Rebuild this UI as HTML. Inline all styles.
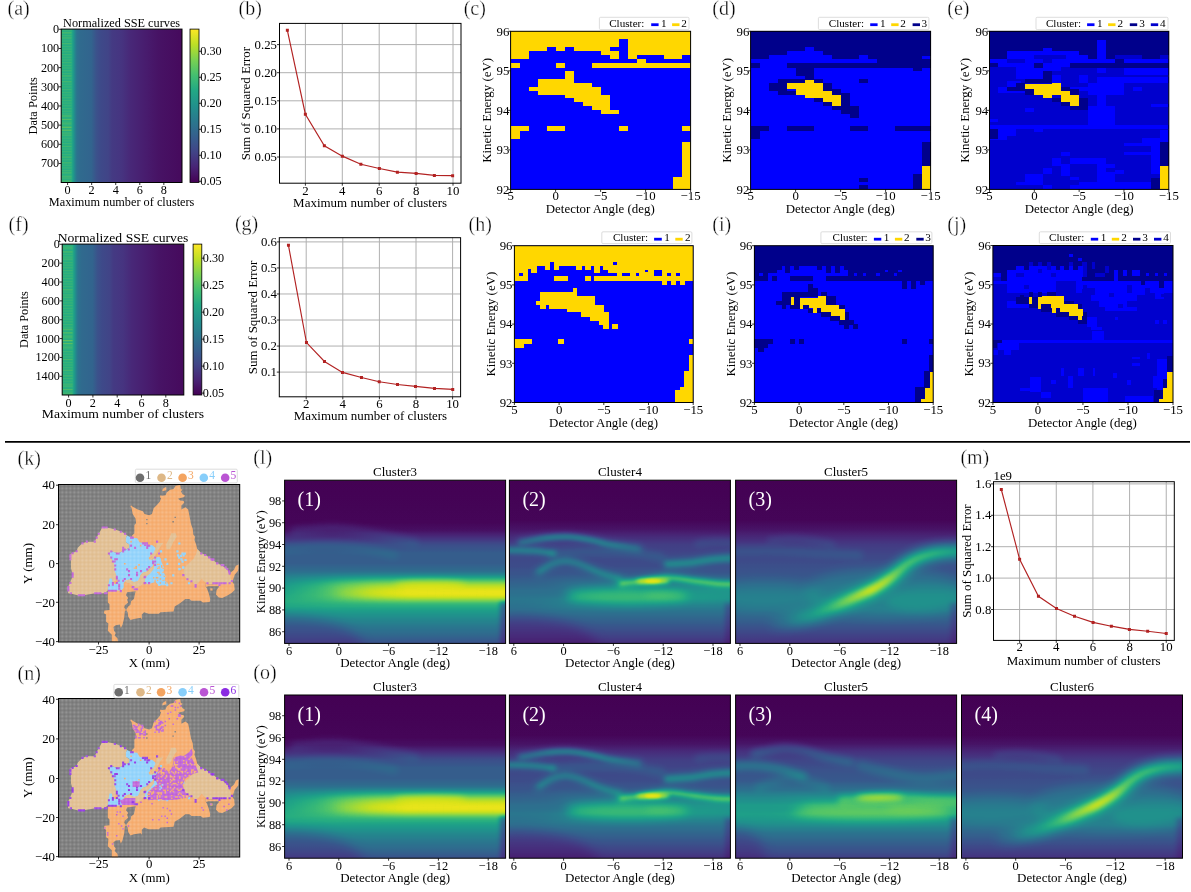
<!DOCTYPE html><html><head><meta charset="utf-8"><title>Figure</title><style>html,body{margin:0;padding:0;background:#fff}svg{display:block}</style></head><body><svg width="1191" height="892" viewBox="0 0 1191 892" font-family='"Liberation Serif", serif' shape-rendering="geometricPrecision"><defs><linearGradient id="ga" x1="0" x2="1" y1="0" y2="0"><stop offset="0.000" stop-color="#26ad81"/><stop offset="0.085" stop-color="#26ad81"/><stop offset="0.100" stop-color="#1e9c89"/><stop offset="0.115" stop-color="#25848e"/><stop offset="0.130" stop-color="#2c738e"/><stop offset="0.160" stop-color="#306a8e"/><stop offset="0.250" stop-color="#32648e"/><stop offset="0.290" stop-color="#3b528b"/><stop offset="0.330" stop-color="#3e4989"/><stop offset="0.390" stop-color="#414487"/><stop offset="0.420" stop-color="#443a83"/><stop offset="0.500" stop-color="#463480"/><stop offset="0.570" stop-color="#482878"/><stop offset="0.700" stop-color="#481c6e"/><stop offset="0.800" stop-color="#471365"/><stop offset="1.000" stop-color="#460a5d"/></linearGradient><pattern id="stk" width="8" height="2.7" patternUnits="userSpaceOnUse"><rect width="8" height="1.1" fill="#a5db36" opacity="0.16"/></pattern><linearGradient id="gac" x1="0" x2="0" y1="1" y2="0"><stop offset="0" stop-color="#440154"/><stop offset="0.1" stop-color="#482475"/><stop offset="0.2" stop-color="#414487"/><stop offset="0.3" stop-color="#355f8d"/><stop offset="0.4" stop-color="#2a788e"/><stop offset="0.5" stop-color="#21918c"/><stop offset="0.6" stop-color="#22a884"/><stop offset="0.7" stop-color="#44bf70"/><stop offset="0.8" stop-color="#7ad151"/><stop offset="0.9" stop-color="#bddf26"/><stop offset="1" stop-color="#fde725"/></linearGradient><linearGradient id="gf" x1="0" x2="1" y1="0" y2="0"><stop offset="0.000" stop-color="#26ad81"/><stop offset="0.085" stop-color="#26ad81"/><stop offset="0.100" stop-color="#1e9c89"/><stop offset="0.115" stop-color="#25848e"/><stop offset="0.130" stop-color="#2c738e"/><stop offset="0.160" stop-color="#306a8e"/><stop offset="0.250" stop-color="#32648e"/><stop offset="0.290" stop-color="#3b528b"/><stop offset="0.330" stop-color="#3e4989"/><stop offset="0.390" stop-color="#414487"/><stop offset="0.420" stop-color="#443a83"/><stop offset="0.500" stop-color="#463480"/><stop offset="0.570" stop-color="#482878"/><stop offset="0.700" stop-color="#481c6e"/><stop offset="0.800" stop-color="#471365"/><stop offset="1.000" stop-color="#460a5d"/></linearGradient><linearGradient id="gfc" x1="0" x2="0" y1="1" y2="0"><stop offset="0" stop-color="#440154"/><stop offset="0.1" stop-color="#482475"/><stop offset="0.2" stop-color="#414487"/><stop offset="0.3" stop-color="#355f8d"/><stop offset="0.4" stop-color="#2a788e"/><stop offset="0.5" stop-color="#21918c"/><stop offset="0.6" stop-color="#22a884"/><stop offset="0.7" stop-color="#44bf70"/><stop offset="0.8" stop-color="#7ad151"/><stop offset="0.9" stop-color="#bddf26"/><stop offset="1" stop-color="#fde725"/></linearGradient><pattern id="dotp" width="4" height="4" patternUnits="userSpaceOnUse" x="58.5" y="484.5"><g fill="#fff" opacity="0.7"><rect x="0.42" y="0.42" width="0.6" height="0.6"/><rect x="0.42" y="1.75" width="0.6" height="0.6"/><rect x="0.42" y="3.09" width="0.6" height="0.6"/><rect x="1.75" y="0.42" width="0.6" height="0.6"/><rect x="1.75" y="1.75" width="0.6" height="0.6"/><rect x="1.75" y="3.09" width="0.6" height="0.6"/><rect x="3.09" y="0.42" width="0.6" height="0.6"/><rect x="3.09" y="1.75" width="0.6" height="0.6"/><rect x="3.09" y="3.09" width="0.6" height="0.6"/></g></pattern><filter id="vir" filterUnits="userSpaceOnUse" x="-30" y="-30" width="290" height="230" color-interpolation-filters="sRGB"><feComponentTransfer><feFuncR type="table" tableValues="0.267 0.277 0.282 0.283 0.279 0.271 0.259 0.245 0.230 0.214 0.199 0.186 0.173 0.161 0.149 0.138 0.128 0.121 0.121 0.132 0.158 0.197 0.246 0.304 0.369 0.440 0.516 0.596 0.678 0.762 0.846 0.926 0.993"/><feFuncG type="table" tableValues="0.005 0.050 0.095 0.136 0.175 0.214 0.252 0.288 0.322 0.356 0.388 0.419 0.449 0.479 0.508 0.537 0.567 0.596 0.626 0.655 0.684 0.712 0.739 0.765 0.789 0.811 0.831 0.849 0.864 0.876 0.887 0.897 0.906"/><feFuncB type="table" tableValues="0.329 0.376 0.417 0.453 0.483 0.507 0.525 0.537 0.546 0.551 0.555 0.557 0.558 0.558 0.557 0.555 0.551 0.544 0.533 0.520 0.502 0.479 0.452 0.420 0.383 0.341 0.294 0.243 0.190 0.137 0.100 0.104 0.144"/></feComponentTransfer></filter><filter id="b1" filterUnits="userSpaceOnUse" x="-60" y="-60" width="350" height="290" color-interpolation-filters="sRGB"><feGaussianBlur stdDeviation="1"/></filter><filter id="b2" filterUnits="userSpaceOnUse" x="-60" y="-60" width="350" height="290" color-interpolation-filters="sRGB"><feGaussianBlur stdDeviation="2"/></filter><filter id="b3" filterUnits="userSpaceOnUse" x="-60" y="-60" width="350" height="290" color-interpolation-filters="sRGB"><feGaussianBlur stdDeviation="3"/></filter><filter id="b4" filterUnits="userSpaceOnUse" x="-60" y="-60" width="350" height="290" color-interpolation-filters="sRGB"><feGaussianBlur stdDeviation="4"/></filter><filter id="b5" filterUnits="userSpaceOnUse" x="-60" y="-60" width="350" height="290" color-interpolation-filters="sRGB"><feGaussianBlur stdDeviation="5"/></filter><filter id="b6" filterUnits="userSpaceOnUse" x="-60" y="-60" width="350" height="290" color-interpolation-filters="sRGB"><feGaussianBlur stdDeviation="6"/></filter><linearGradient id="q1" gradientUnits="userSpaceOnUse" x1="0" x2="0" y1="0" y2="163.2"><stop offset="0.000" stop-color="#000000"/><stop offset="0.260" stop-color="#030303"/><stop offset="0.307" stop-color="#0a0a0a"/><stop offset="0.347" stop-color="#1f1f1f"/><stop offset="0.394" stop-color="#3b3b3b"/><stop offset="0.447" stop-color="#4a4a4a"/><stop offset="0.508" stop-color="#4a4a4a"/><stop offset="0.554" stop-color="#595959"/><stop offset="0.594" stop-color="#6e6e6e"/><stop offset="0.648" stop-color="#808080"/><stop offset="0.695" stop-color="#8c8c8c"/><stop offset="0.741" stop-color="#999999"/><stop offset="0.775" stop-color="#999999"/><stop offset="0.808" stop-color="#8a8a8a"/><stop offset="0.848" stop-color="#787878"/><stop offset="0.895" stop-color="#666666"/><stop offset="0.942" stop-color="#575757"/><stop offset="0.995" stop-color="#424242"/></linearGradient><clipPath id="q2"><rect x="0" y="0" width="221" height="163.2"/></clipPath><linearGradient id="q3" x1="0" x2="1" y1="0" y2="0"><stop offset="0" stop-color="#fff" stop-opacity="0"/><stop offset="0.08" stop-color="#fff" stop-opacity="0.1"/><stop offset="0.2" stop-color="#fff" stop-opacity="0.3"/><stop offset="0.3" stop-color="#fff" stop-opacity="0.55"/><stop offset="0.42" stop-color="#fff" stop-opacity="0.72"/><stop offset="0.55" stop-color="#fff" stop-opacity="0.8"/><stop offset="0.97" stop-color="#fff" stop-opacity="0.8"/><stop offset="1" stop-color="#fff" stop-opacity="0.65"/></linearGradient><linearGradient id="q4" x1="0" x2="1" y1="0" y2="0"><stop offset="0" stop-color="#fff" stop-opacity="0"/><stop offset="0.25" stop-color="#fff" stop-opacity="0"/><stop offset="0.4" stop-color="#fff" stop-opacity="0.45"/><stop offset="0.55" stop-color="#fff" stop-opacity="0.75"/><stop offset="0.95" stop-color="#fff" stop-opacity="0.8"/><stop offset="1" stop-color="#fff" stop-opacity="0.4"/></linearGradient><linearGradient id="q5" gradientUnits="userSpaceOnUse" x1="0" x2="0" y1="0" y2="163.2"><stop offset="0.000" stop-color="#000000"/><stop offset="0.247" stop-color="#030303"/><stop offset="0.301" stop-color="#0d0d0d"/><stop offset="0.347" stop-color="#1f1f1f"/><stop offset="0.394" stop-color="#2e2e2e"/><stop offset="0.461" stop-color="#363636"/><stop offset="0.528" stop-color="#3b3b3b"/><stop offset="0.581" stop-color="#474747"/><stop offset="0.628" stop-color="#5c5c5c"/><stop offset="0.675" stop-color="#707070"/><stop offset="0.728" stop-color="#787878"/><stop offset="0.781" stop-color="#696969"/><stop offset="0.842" stop-color="#545454"/><stop offset="0.908" stop-color="#404040"/><stop offset="0.968" stop-color="#2e2e2e"/><stop offset="0.995" stop-color="#242424"/></linearGradient><clipPath id="q6"><rect x="0" y="0" width="221" height="163.2"/></clipPath><linearGradient id="q7" gradientUnits="userSpaceOnUse" x1="0" x2="221" y1="0" y2="0"><stop offset="0.000" stop-color="#fff" stop-opacity="0.3"/><stop offset="0.181" stop-color="#fff" stop-opacity="1"/><stop offset="0.407" stop-color="#fff" stop-opacity="1"/><stop offset="0.588" stop-color="#fff" stop-opacity="0.3"/></linearGradient><linearGradient id="q8" gradientUnits="userSpaceOnUse" x1="0" x2="0" y1="0" y2="163.2"><stop offset="0.000" stop-color="#000000"/><stop offset="0.247" stop-color="#030303"/><stop offset="0.301" stop-color="#0d0d0d"/><stop offset="0.347" stop-color="#1c1c1c"/><stop offset="0.394" stop-color="#2b2b2b"/><stop offset="0.461" stop-color="#363636"/><stop offset="0.528" stop-color="#3d3d3d"/><stop offset="0.594" stop-color="#454545"/><stop offset="0.661" stop-color="#4f4f4f"/><stop offset="0.728" stop-color="#595959"/><stop offset="0.795" stop-color="#595959"/><stop offset="0.862" stop-color="#4c4c4c"/><stop offset="0.928" stop-color="#383838"/><stop offset="0.995" stop-color="#262626"/></linearGradient><clipPath id="q9"><rect x="0" y="0" width="221" height="163.2"/></clipPath><linearGradient id="q10" gradientUnits="userSpaceOnUse" x1="0" x2="221" y1="0" y2="0"><stop offset="0.136" stop-color="#fff" stop-opacity="0"/><stop offset="0.271" stop-color="#fff" stop-opacity="0.2"/><stop offset="0.498" stop-color="#fff" stop-opacity="0.36"/><stop offset="0.633" stop-color="#fff" stop-opacity="0.42"/><stop offset="0.769" stop-color="#fff" stop-opacity="0.36"/><stop offset="1.000" stop-color="#fff" stop-opacity="0.3"/></linearGradient><linearGradient id="q11" gradientUnits="userSpaceOnUse" x1="0" x2="221" y1="0" y2="0"><stop offset="0.226" stop-color="#fff" stop-opacity="0"/><stop offset="0.430" stop-color="#fff" stop-opacity="0.25"/><stop offset="0.543" stop-color="#fff" stop-opacity="0.7"/><stop offset="0.611" stop-color="#fff" stop-opacity="0.95"/><stop offset="0.679" stop-color="#fff" stop-opacity="0.8"/><stop offset="0.738" stop-color="#fff" stop-opacity="0.5"/><stop offset="0.860" stop-color="#fff" stop-opacity="0.45"/><stop offset="1.000" stop-color="#fff" stop-opacity="0.3"/></linearGradient><linearGradient id="q12" gradientUnits="userSpaceOnUse" x1="0" x2="0" y1="0" y2="163.2"><stop offset="0.000" stop-color="#000000"/><stop offset="0.260" stop-color="#030303"/><stop offset="0.307" stop-color="#0a0a0a"/><stop offset="0.347" stop-color="#1f1f1f"/><stop offset="0.394" stop-color="#3b3b3b"/><stop offset="0.447" stop-color="#4a4a4a"/><stop offset="0.508" stop-color="#4a4a4a"/><stop offset="0.554" stop-color="#595959"/><stop offset="0.594" stop-color="#6e6e6e"/><stop offset="0.648" stop-color="#808080"/><stop offset="0.695" stop-color="#8c8c8c"/><stop offset="0.741" stop-color="#999999"/><stop offset="0.775" stop-color="#999999"/><stop offset="0.808" stop-color="#8a8a8a"/><stop offset="0.848" stop-color="#787878"/><stop offset="0.895" stop-color="#666666"/><stop offset="0.942" stop-color="#575757"/><stop offset="0.995" stop-color="#424242"/></linearGradient><clipPath id="q13"><rect x="0" y="0" width="221" height="163.2"/></clipPath><linearGradient id="q14" x1="0" x2="1" y1="0" y2="0"><stop offset="0" stop-color="#fff" stop-opacity="0"/><stop offset="0.08" stop-color="#fff" stop-opacity="0.1"/><stop offset="0.2" stop-color="#fff" stop-opacity="0.3"/><stop offset="0.3" stop-color="#fff" stop-opacity="0.55"/><stop offset="0.42" stop-color="#fff" stop-opacity="0.72"/><stop offset="0.55" stop-color="#fff" stop-opacity="0.8"/><stop offset="0.97" stop-color="#fff" stop-opacity="0.8"/><stop offset="1" stop-color="#fff" stop-opacity="0.65"/></linearGradient><linearGradient id="q15" x1="0" x2="1" y1="0" y2="0"><stop offset="0" stop-color="#fff" stop-opacity="0"/><stop offset="0.25" stop-color="#fff" stop-opacity="0"/><stop offset="0.4" stop-color="#fff" stop-opacity="0.45"/><stop offset="0.55" stop-color="#fff" stop-opacity="0.75"/><stop offset="0.95" stop-color="#fff" stop-opacity="0.8"/><stop offset="1" stop-color="#fff" stop-opacity="0.4"/></linearGradient><linearGradient id="q16" gradientUnits="userSpaceOnUse" x1="0" x2="0" y1="0" y2="163.2"><stop offset="0.000" stop-color="#000000"/><stop offset="0.247" stop-color="#030303"/><stop offset="0.301" stop-color="#0d0d0d"/><stop offset="0.347" stop-color="#1f1f1f"/><stop offset="0.394" stop-color="#2e2e2e"/><stop offset="0.461" stop-color="#363636"/><stop offset="0.528" stop-color="#3b3b3b"/><stop offset="0.581" stop-color="#474747"/><stop offset="0.628" stop-color="#5c5c5c"/><stop offset="0.675" stop-color="#707070"/><stop offset="0.728" stop-color="#787878"/><stop offset="0.781" stop-color="#696969"/><stop offset="0.842" stop-color="#545454"/><stop offset="0.908" stop-color="#404040"/><stop offset="0.968" stop-color="#2e2e2e"/><stop offset="0.995" stop-color="#242424"/></linearGradient><clipPath id="q17"><rect x="0" y="0" width="221" height="163.2"/></clipPath><linearGradient id="q18" gradientUnits="userSpaceOnUse" x1="0" x2="221" y1="0" y2="0"><stop offset="0.000" stop-color="#fff" stop-opacity="0.3"/><stop offset="0.181" stop-color="#fff" stop-opacity="1"/><stop offset="0.407" stop-color="#fff" stop-opacity="1"/><stop offset="0.588" stop-color="#fff" stop-opacity="0.3"/></linearGradient><linearGradient id="q19" gradientUnits="userSpaceOnUse" x1="0" x2="0" y1="0" y2="163.2"><stop offset="0.000" stop-color="#000000"/><stop offset="0.247" stop-color="#030303"/><stop offset="0.301" stop-color="#0f0f0f"/><stop offset="0.347" stop-color="#242424"/><stop offset="0.394" stop-color="#333333"/><stop offset="0.461" stop-color="#404040"/><stop offset="0.528" stop-color="#474747"/><stop offset="0.581" stop-color="#5e5e5e"/><stop offset="0.628" stop-color="#808080"/><stop offset="0.675" stop-color="#9e9e9e"/><stop offset="0.728" stop-color="#9e9e9e"/><stop offset="0.781" stop-color="#858585"/><stop offset="0.842" stop-color="#636363"/><stop offset="0.908" stop-color="#4c4c4c"/><stop offset="0.968" stop-color="#3b3b3b"/><stop offset="0.995" stop-color="#303030"/></linearGradient><clipPath id="q20"><rect x="0" y="0" width="221" height="163.2"/></clipPath><linearGradient id="q21" gradientUnits="userSpaceOnUse" x1="0" x2="0" y1="0" y2="163.2"><stop offset="0.000" stop-color="#000000"/><stop offset="0.247" stop-color="#030303"/><stop offset="0.301" stop-color="#0d0d0d"/><stop offset="0.347" stop-color="#1c1c1c"/><stop offset="0.394" stop-color="#2b2b2b"/><stop offset="0.461" stop-color="#363636"/><stop offset="0.528" stop-color="#3d3d3d"/><stop offset="0.594" stop-color="#454545"/><stop offset="0.661" stop-color="#4f4f4f"/><stop offset="0.728" stop-color="#595959"/><stop offset="0.795" stop-color="#595959"/><stop offset="0.862" stop-color="#4c4c4c"/><stop offset="0.928" stop-color="#383838"/><stop offset="0.995" stop-color="#262626"/></linearGradient><clipPath id="q22"><rect x="0" y="0" width="221" height="163.2"/></clipPath><linearGradient id="q23" gradientUnits="userSpaceOnUse" x1="0" x2="221" y1="0" y2="0"><stop offset="0.136" stop-color="#fff" stop-opacity="0"/><stop offset="0.271" stop-color="#fff" stop-opacity="0.2"/><stop offset="0.498" stop-color="#fff" stop-opacity="0.36"/><stop offset="0.633" stop-color="#fff" stop-opacity="0.42"/><stop offset="0.769" stop-color="#fff" stop-opacity="0.36"/><stop offset="1.000" stop-color="#fff" stop-opacity="0.3"/></linearGradient><linearGradient id="q24" gradientUnits="userSpaceOnUse" x1="0" x2="221" y1="0" y2="0"><stop offset="0.226" stop-color="#fff" stop-opacity="0"/><stop offset="0.430" stop-color="#fff" stop-opacity="0.25"/><stop offset="0.543" stop-color="#fff" stop-opacity="0.7"/><stop offset="0.611" stop-color="#fff" stop-opacity="0.95"/><stop offset="0.679" stop-color="#fff" stop-opacity="0.8"/><stop offset="0.738" stop-color="#fff" stop-opacity="0.5"/><stop offset="0.860" stop-color="#fff" stop-opacity="0.45"/><stop offset="1.000" stop-color="#fff" stop-opacity="0.3"/></linearGradient></defs><rect width="1191" height="892" fill="#fff"/><rect x="61.2" y="29.1" width="120.8" height="153.4" fill="url(#ga)"/>
<rect x="61.2" y="29.1" width="10.27" height="153.4" fill="url(#stk)"/>
<rect x="61.2" y="32.17" width="10.27" height="1.3" fill="#b5de2b" opacity="0.15"/>
<rect x="61.2" y="36.77" width="10.27" height="1.3" fill="#b5de2b" opacity="0.12"/>
<rect x="61.2" y="42.91" width="10.27" height="1.3" fill="#b5de2b" opacity="0.09"/>
<rect x="61.2" y="75.12" width="10.27" height="1.3" fill="#b5de2b" opacity="0.12"/>
<rect x="61.2" y="81.26" width="10.27" height="1.3" fill="#b5de2b" opacity="0.09"/>
<rect x="61.2" y="115" width="10.27" height="1.3" fill="#b5de2b" opacity="0.18"/>
<rect x="61.2" y="118.84" width="10.27" height="1.3" fill="#b5de2b" opacity="0.21"/>
<rect x="61.2" y="122.67" width="10.27" height="1.3" fill="#b5de2b" opacity="0.18"/>
<rect x="61.2" y="126.51" width="10.27" height="1.3" fill="#b5de2b" opacity="0.33"/>
<rect x="61.2" y="129.58" width="10.27" height="1.3" fill="#b5de2b" opacity="0.27"/>
<rect x="61.2" y="133.41" width="10.27" height="1.3" fill="#b5de2b" opacity="0.15"/>
<rect x="61.2" y="145.68" width="10.27" height="1.3" fill="#b5de2b" opacity="0.09"/>
<rect x="61.2" y="156.42" width="10.27" height="1.3" fill="#b5de2b" opacity="0.12"/>
<rect x="61.2" y="162.56" width="10.27" height="1.3" fill="#b5de2b" opacity="0.09"/>
<rect x="61.2" y="171.76" width="10.27" height="1.3" fill="#b5de2b" opacity="0.15"/>
<rect x="61.2" y="176.36" width="10.27" height="1.3" fill="#b5de2b" opacity="0.18"/>
<rect x="61.2" y="180.2" width="10.27" height="1.3" fill="#b5de2b" opacity="0.18"/>
<rect x="61.2" y="29.1" width="120.8" height="153.4" fill="none" stroke="#000" stroke-width="1"/>
<rect x="190" y="29.1" width="9" height="153.4" fill="url(#gac)"/>
<rect x="190" y="29.1" width="9" height="153.4" fill="none" stroke="#000" stroke-width="0.8"/>
<text x="121.6" y="26.6" font-size="12.2" text-anchor="middle" textLength="117" lengthAdjust="spacingAndGlyphs">Normalized SSE curves</text>
<path d="M61.2 29.3h-2.5M61.2 48.47h-2.5M61.2 67.64h-2.5M61.2 86.81h-2.5M61.2 105.98h-2.5M61.2 125.15h-2.5M61.2 144.32h-2.5M61.2 163.49h-2.5" stroke="#000" stroke-width="0.8"/>
<text x="59.2" y="33.3" font-size="12.2" text-anchor="end">0</text>
<text x="59.2" y="52.47" font-size="12.2" text-anchor="end">100</text>
<text x="59.2" y="71.64" font-size="12.2" text-anchor="end">200</text>
<text x="59.2" y="90.81" font-size="12.2" text-anchor="end">300</text>
<text x="59.2" y="109.98" font-size="12.2" text-anchor="end">400</text>
<text x="59.2" y="129.15" font-size="12.2" text-anchor="end">500</text>
<text x="59.2" y="148.32" font-size="12.2" text-anchor="end">600</text>
<text x="59.2" y="167.49" font-size="12.2" text-anchor="end">700</text>
<path d="M67.6 182.5v2.5M91.66 182.5v2.5M115.72 182.5v2.5M139.78 182.5v2.5M163.84 182.5v2.5" stroke="#000" stroke-width="0.8"/>
<text x="67.6" y="193.6" font-size="12.2" text-anchor="middle">0</text>
<text x="91.66" y="193.6" font-size="12.2" text-anchor="middle">2</text>
<text x="115.72" y="193.6" font-size="12.2" text-anchor="middle">4</text>
<text x="139.78" y="193.6" font-size="12.2" text-anchor="middle">6</text>
<text x="163.84" y="193.6" font-size="12.2" text-anchor="middle">8</text>
<text x="121.6" y="206" font-size="12.2" text-anchor="middle" textLength="145.6" lengthAdjust="spacingAndGlyphs">Maximum number of clusters</text>
<text x="37.1" y="105.8" font-size="12.2" text-anchor="middle" transform="rotate(-90 37.1 105.8)" textLength="57.4" lengthAdjust="spacingAndGlyphs">Data Points</text>
<path d="M199 51.3h2.5M199 77.3h2.5M199 103.3h2.5M199 129.3h2.5M199 155.3h2.5M199 181.3h2.5" stroke="#000" stroke-width="0.8"/>
<text x="200.3" y="55.3" font-size="12.2">0.30</text>
<text x="200.3" y="81.3" font-size="12.2">0.25</text>
<text x="200.3" y="107.3" font-size="12.2">0.20</text>
<text x="200.3" y="133.3" font-size="12.2">0.15</text>
<text x="200.3" y="159.3" font-size="12.2">0.10</text>
<text x="200.3" y="185.3" font-size="12.2">0.05</text>
<rect x="62.2" y="244.1" width="121.6" height="150.9" fill="url(#gf)"/>
<rect x="62.2" y="244.1" width="10.34" height="150.9" fill="url(#stk)"/>
<rect x="62.2" y="247.12" width="10.34" height="1.3" fill="#b5de2b" opacity="0.15"/>
<rect x="62.2" y="251.64" width="10.34" height="1.3" fill="#b5de2b" opacity="0.12"/>
<rect x="62.2" y="257.68" width="10.34" height="1.3" fill="#b5de2b" opacity="0.09"/>
<rect x="62.2" y="289.37" width="10.34" height="1.3" fill="#b5de2b" opacity="0.12"/>
<rect x="62.2" y="295.41" width="10.34" height="1.3" fill="#b5de2b" opacity="0.09"/>
<rect x="62.2" y="328.6" width="10.34" height="1.3" fill="#b5de2b" opacity="0.18"/>
<rect x="62.2" y="332.38" width="10.34" height="1.3" fill="#b5de2b" opacity="0.21"/>
<rect x="62.2" y="336.15" width="10.34" height="1.3" fill="#b5de2b" opacity="0.18"/>
<rect x="62.2" y="339.92" width="10.34" height="1.3" fill="#b5de2b" opacity="0.33"/>
<rect x="62.2" y="342.94" width="10.34" height="1.3" fill="#b5de2b" opacity="0.27"/>
<rect x="62.2" y="346.71" width="10.34" height="1.3" fill="#b5de2b" opacity="0.15"/>
<rect x="62.2" y="358.78" width="10.34" height="1.3" fill="#b5de2b" opacity="0.09"/>
<rect x="62.2" y="369.35" width="10.34" height="1.3" fill="#b5de2b" opacity="0.12"/>
<rect x="62.2" y="375.38" width="10.34" height="1.3" fill="#b5de2b" opacity="0.09"/>
<rect x="62.2" y="384.44" width="10.34" height="1.3" fill="#b5de2b" opacity="0.15"/>
<rect x="62.2" y="388.96" width="10.34" height="1.3" fill="#b5de2b" opacity="0.18"/>
<rect x="62.2" y="392.74" width="10.34" height="1.3" fill="#b5de2b" opacity="0.18"/>
<rect x="62.2" y="244.1" width="121.6" height="150.9" fill="none" stroke="#000" stroke-width="1"/>
<rect x="193.1" y="244.1" width="8.7" height="150.9" fill="url(#gfc)"/>
<rect x="193.1" y="244.1" width="8.7" height="150.9" fill="none" stroke="#000" stroke-width="0.8"/>
<text x="123" y="241.6" font-size="12.2" text-anchor="middle" textLength="130.7" lengthAdjust="spacingAndGlyphs">Normalized SSE curves</text>
<path d="M62.2 244.3h-2.5M62.2 263.16h-2.5M62.2 282.02h-2.5M62.2 300.88h-2.5M62.2 319.74h-2.5M62.2 338.6h-2.5M62.2 357.46h-2.5M62.2 376.32h-2.5" stroke="#000" stroke-width="0.8"/>
<text x="59.9" y="248.3" font-size="12.2" text-anchor="end">0</text>
<text x="59.9" y="267.16" font-size="12.2" text-anchor="end">200</text>
<text x="59.9" y="286.02" font-size="12.2" text-anchor="end">400</text>
<text x="59.9" y="304.88" font-size="12.2" text-anchor="end">600</text>
<text x="59.9" y="323.74" font-size="12.2" text-anchor="end">800</text>
<text x="59.9" y="342.6" font-size="12.2" text-anchor="end">1000</text>
<text x="59.9" y="361.46" font-size="12.2" text-anchor="end">1200</text>
<text x="59.9" y="380.32" font-size="12.2" text-anchor="end">1400</text>
<path d="M68.6 395v2.5M92.9 395v2.5M117.2 395v2.5M141.5 395v2.5M165.8 395v2.5" stroke="#000" stroke-width="0.8"/>
<text x="68.6" y="406.9" font-size="12.2" text-anchor="middle">0</text>
<text x="92.9" y="406.9" font-size="12.2" text-anchor="middle">2</text>
<text x="117.2" y="406.9" font-size="12.2" text-anchor="middle">4</text>
<text x="141.5" y="406.9" font-size="12.2" text-anchor="middle">6</text>
<text x="165.8" y="406.9" font-size="12.2" text-anchor="middle">8</text>
<text x="123" y="417.8" font-size="12.2" text-anchor="middle" textLength="162.3" lengthAdjust="spacingAndGlyphs">Maximum number of clusters</text>
<text x="27.7" y="319.55" font-size="12.2" text-anchor="middle" transform="rotate(-90 27.7 319.55)" textLength="56.7" lengthAdjust="spacingAndGlyphs">Data Points</text>
<path d="M201.8 258.2h2.5M201.8 285.18h2.5M201.8 312.16h2.5M201.8 339.14h2.5M201.8 366.12h2.5M201.8 393.1h2.5" stroke="#000" stroke-width="0.8"/>
<text x="202.8" y="262.2" font-size="12.2">0.30</text>
<text x="202.8" y="289.18" font-size="12.2">0.25</text>
<text x="202.8" y="316.16" font-size="12.2">0.20</text>
<text x="202.8" y="343.14" font-size="12.2">0.15</text>
<text x="202.8" y="370.12" font-size="12.2">0.10</text>
<text x="202.8" y="397.1" font-size="12.2">0.05</text>
<rect x="279.5" y="23.4" width="181.5" height="159.8" fill="#fff"/>
<path d="M305.4 23.4V183.2M342.3 23.4V183.2M379.2 23.4V183.2M416.1 23.4V183.2M453 23.4V183.2M279.5 44.6H461M279.5 72.7H461M279.5 100.8H461M279.5 128.9H461M279.5 157H461" stroke="#b0b0b0" stroke-width="1" fill="none"/>
<polyline points="287.36,30.34 305.37,114.21 324.36,145.78 342.37,156.14 360.87,164.28 379.37,168.48 397.38,172.18 416.12,173.41 434.38,175.38 452.63,175.63" fill="none" stroke="#b22222" stroke-width="1.15"/>
<path d="M285.86 28.84h3v3h-3zM303.87 112.71h3v3h-3zM322.86 144.28h3v3h-3zM340.87 154.64h3v3h-3zM359.37 162.78h3v3h-3zM377.87 166.98h3v3h-3zM395.88 170.68h3v3h-3zM414.62 171.91h3v3h-3zM432.88 173.88h3v3h-3zM451.13 174.13h3v3h-3z" fill="#b22222"/>
<rect x="279.5" y="23.4" width="181.5" height="159.8" fill="none" stroke="#000" stroke-width="1"/>
<path d="M305.4 183.2v2.5M342.3 183.2v2.5M379.2 183.2v2.5M416.1 183.2v2.5M453 183.2v2.5" stroke="#000" stroke-width="0.8"/>
<path d="M279.5 44.6h-2.5M279.5 72.7h-2.5M279.5 100.8h-2.5M279.5 128.9h-2.5M279.5 157h-2.5" stroke="#000" stroke-width="0.8"/>
<text x="305.4" y="194.9" font-size="12.8" text-anchor="middle">2</text>
<text x="342.3" y="194.9" font-size="12.8" text-anchor="middle">4</text>
<text x="379.2" y="194.9" font-size="12.8" text-anchor="middle">6</text>
<text x="416.1" y="194.9" font-size="12.8" text-anchor="middle">8</text>
<text x="453" y="194.9" font-size="12.8" text-anchor="middle">10</text>
<text x="277" y="48.6" font-size="12.8" text-anchor="end">0.25</text>
<text x="277" y="76.7" font-size="12.8" text-anchor="end">0.20</text>
<text x="277" y="104.8" font-size="12.8" text-anchor="end">0.15</text>
<text x="277" y="132.9" font-size="12.8" text-anchor="end">0.10</text>
<text x="277" y="161" font-size="12.8" text-anchor="end">0.05</text>
<text x="370.1" y="207.2" font-size="12.8" text-anchor="middle" textLength="154" lengthAdjust="spacingAndGlyphs">Maximum number of clusters</text>
<text x="250.2" y="103.6" font-size="12.8" text-anchor="middle" transform="rotate(-90 250.2 103.6)" textLength="113.4" lengthAdjust="spacingAndGlyphs">Sum of Squared Error</text>
<rect x="279.3" y="237.7" width="181.3" height="159.1" fill="#fff"/>
<path d="M306.2 237.7V396.8M342.8 237.7V396.8M379.4 237.7V396.8M416 237.7V396.8M452.6 237.7V396.8M279.3 241.9H460.6M279.3 267.94H460.6M279.3 293.98H460.6M279.3 320.02H460.6M279.3 346.06H460.6M279.3 372.1H460.6" stroke="#b0b0b0" stroke-width="1" fill="none"/>
<polyline points="288.46,245.34 306.47,342.53 324.47,361.52 342.48,372.38 361.48,377.56 379.24,381.75 397.49,384.46 415.5,386.44 434.49,388.41 452.74,389.4" fill="none" stroke="#b22222" stroke-width="1.15"/>
<path d="M286.96 243.84h3v3h-3zM304.97 341.03h3v3h-3zM322.97 360.02h3v3h-3zM340.98 370.88h3v3h-3zM359.98 376.06h3v3h-3zM377.74 380.25h3v3h-3zM395.99 382.96h3v3h-3zM414 384.94h3v3h-3zM432.99 386.91h3v3h-3zM451.24 387.9h3v3h-3z" fill="#b22222"/>
<rect x="279.3" y="237.7" width="181.3" height="159.1" fill="none" stroke="#000" stroke-width="1"/>
<path d="M306.2 396.8v2.5M342.8 396.8v2.5M379.4 396.8v2.5M416 396.8v2.5M452.6 396.8v2.5" stroke="#000" stroke-width="0.8"/>
<path d="M279.3 241.9h-2.5M279.3 267.94h-2.5M279.3 293.98h-2.5M279.3 320.02h-2.5M279.3 346.06h-2.5M279.3 372.1h-2.5" stroke="#000" stroke-width="0.8"/>
<text x="306.2" y="407.9" font-size="12.8" text-anchor="middle">2</text>
<text x="342.8" y="407.9" font-size="12.8" text-anchor="middle">4</text>
<text x="379.4" y="407.9" font-size="12.8" text-anchor="middle">6</text>
<text x="416" y="407.9" font-size="12.8" text-anchor="middle">8</text>
<text x="452.6" y="407.9" font-size="12.8" text-anchor="middle">10</text>
<text x="276.9" y="245.9" font-size="12.8" text-anchor="end">0.6</text>
<text x="276.9" y="271.94" font-size="12.8" text-anchor="end">0.5</text>
<text x="276.9" y="297.98" font-size="12.8" text-anchor="end">0.4</text>
<text x="276.9" y="324.02" font-size="12.8" text-anchor="end">0.3</text>
<text x="276.9" y="350.06" font-size="12.8" text-anchor="end">0.2</text>
<text x="276.9" y="376.1" font-size="12.8" text-anchor="end">0.1</text>
<text x="370.4" y="420.2" font-size="12.8" text-anchor="middle" textLength="153.5" lengthAdjust="spacingAndGlyphs">Maximum number of clusters</text>
<text x="257.4" y="317.4" font-size="12.8" text-anchor="middle" transform="rotate(-90 257.4 317.4)" textLength="113.5" lengthAdjust="spacingAndGlyphs">Sum of Squared Error</text>
<rect x="993.5" y="481.7" width="180.8" height="158.7" fill="#fff"/>
<path d="M1019.6 481.7V640.4M1056.26 481.7V640.4M1092.92 481.7V640.4M1129.58 481.7V640.4M1166.24 481.7V640.4M993.5 483.9H1174.3M993.5 515.3H1174.3M993.5 546.7H1174.3M993.5 578.1H1174.3M993.5 609.5H1174.3" stroke="#b0b0b0" stroke-width="1" fill="none"/>
<polyline points="1001.31,489.51 1019.61,559.19 1038.44,596.32 1056.47,608.43 1074.5,616.23 1093.06,622.42 1111.36,626.19 1129.38,629.42 1147.68,631.3 1166.24,633.45" fill="none" stroke="#b22222" stroke-width="1.15"/>
<path d="M999.81 488.01h3v3h-3zM1018.11 557.69h3v3h-3zM1036.94 594.82h3v3h-3zM1054.97 606.93h3v3h-3zM1073 614.73h3v3h-3zM1091.56 620.92h3v3h-3zM1109.86 624.69h3v3h-3zM1127.88 627.92h3v3h-3zM1146.18 629.8h3v3h-3zM1164.74 631.95h3v3h-3z" fill="#b22222"/>
<rect x="993.5" y="481.7" width="180.8" height="158.7" fill="none" stroke="#000" stroke-width="1"/>
<path d="M1019.6 640.4v2.5M1056.26 640.4v2.5M1092.92 640.4v2.5M1129.58 640.4v2.5M1166.24 640.4v2.5" stroke="#000" stroke-width="0.8"/>
<path d="M993.5 483.9h-2.5M993.5 515.3h-2.5M993.5 546.7h-2.5M993.5 578.1h-2.5M993.5 609.5h-2.5" stroke="#000" stroke-width="0.8"/>
<text x="1019.6" y="651.21" font-size="12.8" text-anchor="middle">2</text>
<text x="1056.26" y="651.21" font-size="12.8" text-anchor="middle">4</text>
<text x="1092.92" y="651.21" font-size="12.8" text-anchor="middle">6</text>
<text x="1129.58" y="651.21" font-size="12.8" text-anchor="middle">8</text>
<text x="1166.24" y="651.21" font-size="12.8" text-anchor="middle">10</text>
<text x="991.36" y="487.9" font-size="12.8" text-anchor="end">1.6</text>
<text x="991.36" y="519.3" font-size="12.8" text-anchor="end">1.4</text>
<text x="991.36" y="550.7" font-size="12.8" text-anchor="end">1.2</text>
<text x="991.36" y="582.1" font-size="12.8" text-anchor="end">1.0</text>
<text x="991.36" y="613.5" font-size="12.8" text-anchor="end">0.8</text>
<text x="1083.64" y="664.66" font-size="12.8" text-anchor="middle" textLength="153.9" lengthAdjust="spacingAndGlyphs">Maximum number of clusters</text>
<text x="971.14" y="561.08" font-size="12.8" text-anchor="middle" transform="rotate(-90 971.14 561.08)" textLength="113.54" lengthAdjust="spacingAndGlyphs">Sum of Squared Error</text>
<text x="993.5" y="480.2" font-size="12.8">1e9</text>
<rect x="510.6" y="31.3" width="180" height="158.1" fill="#0000ff"/>
<path d="M510.6 31.3H690.6V47.11H510.6zM546.6 47.11H555.6V51.06H546.6zM510.6 47.11H546.6V51.06H510.6zM555.6 47.11H564.6V51.06H555.6zM573.6 47.11H609.6V51.06H573.6zM627.6 47.11H690.6V51.06H627.6zM510.6 51.06H528.6V59.36H510.6zM600.6 51.06H618.6V55.02H600.6zM609.6 55.02H618.6V59.36H609.6zM627.6 51.06H690.6V55.02H627.6zM627.6 55.02H636.6V59.36H627.6zM663.6 55.02H681.6V59.36H663.6zM636.6 58.97H645.6V62.92H636.6zM510.6 62.92H519.6V67.66H510.6zM555.6 62.92H564.6V67.66H555.6zM591.6 62.92H690.6V67.66H591.6zM564.6 70.83H573.6V78.73H564.6zM537.6 78.73H573.6V82.68H537.6zM537.6 82.68H591.6V86.63H537.6zM528.6 86.63H600.6V90.59H528.6zM537.6 90.59H600.6V94.54H537.6zM564.6 94.54H609.6V98.49H564.6zM573.6 98.49H609.6V102.44H573.6zM582.6 102.44H609.6V106.4H582.6zM591.6 106.4H609.6V110.35H591.6zM600.6 110.35H618.6V114.3H600.6zM510.6 126.16H528.6V130.9H510.6zM546.6 126.16H564.6V130.9H546.6zM618.6 126.16H627.6V130.9H618.6zM681.6 126.16H690.6V130.9H681.6zM510.6 130.9H519.6V138.81H510.6zM681.6 141.97H690.6V189.4H681.6zM672.6 176.75H690.6V189.4H672.6z" fill="#ffd700" shape-rendering="crispEdges"/>
<path d="M618.6 39.2H627.6V47.11H618.6zM546.6 47.11H555.6V51.06H546.6z" fill="#0000ff" shape-rendering="crispEdges"/>
<rect x="510.6" y="31.3" width="180" height="158.1" fill="none" stroke="#000" stroke-width="1"/>
<path d="M510.6 189.4v2.5M555.6 189.4v2.5M600.6 189.4v2.5M645.6 189.4v2.5M690.6 189.4v2.5" stroke="#000" stroke-width="0.8"/>
<path d="M510.6 31.3h-2.5M510.6 70.83h-2.5M510.6 110.35h-2.5M510.6 149.88h-2.5M510.6 189.4h-2.5" stroke="#000" stroke-width="0.8"/>
<text x="510.6" y="200.3" font-size="12.8" text-anchor="middle">5</text>
<text x="555.6" y="200.3" font-size="12.8" text-anchor="middle">0</text>
<text x="600.6" y="200.3" font-size="12.8" text-anchor="middle">−5</text>
<text x="645.6" y="200.3" font-size="12.8" text-anchor="middle">−10</text>
<text x="690.6" y="200.3" font-size="12.8" text-anchor="middle">−15</text>
<text x="509.3" y="35.5" font-size="12.8" text-anchor="end">96</text>
<text x="509.3" y="75.03" font-size="12.8" text-anchor="end">95</text>
<text x="509.3" y="114.55" font-size="12.8" text-anchor="end">94</text>
<text x="509.3" y="154.07" font-size="12.8" text-anchor="end">93</text>
<text x="509.3" y="193.6" font-size="12.8" text-anchor="end">92</text>
<text x="600.3" y="213.4" font-size="12.8" text-anchor="middle" textLength="109" lengthAdjust="spacingAndGlyphs">Detector Angle (deg)</text>
<text x="491.1" y="110.4" font-size="12.8" text-anchor="middle" transform="rotate(-90 491.1 110.4)" textLength="104.8" lengthAdjust="spacingAndGlyphs">Kinetic Energy (eV)</text>
<rect x="599.4" y="17.3" width="89.6" height="12.3" rx="1.2" fill="#fff" stroke="#d4d4d4" stroke-width="0.8"/>
<text x="609.2" y="26.8" font-size="11.2" textLength="35.2" lengthAdjust="spacingAndGlyphs">Cluster:</text>
<line x1="651.2" y1="24.7" x2="658.6" y2="24.7" stroke="#0000ff" stroke-width="2.8"/>
<text x="661" y="26.8" font-size="11.2">1</text>
<line x1="672.1" y1="24.7" x2="679.5" y2="24.7" stroke="#ffd700" stroke-width="2.8"/>
<text x="681.3" y="26.8" font-size="11.2">2</text>
<rect x="750.6" y="31.3" width="180" height="158.1" fill="#0000ff"/>
<path d="M750.6 31.3H930.6V51.06H750.6zM750.6 51.06H786.6V55.02H750.6zM822.6 51.06H930.6V55.02H822.6zM750.6 55.02H768.6V59.36H750.6zM831.6 55.02H858.6V58.97H831.6zM867.6 55.02H921.6V58.97H867.6zM921.6 55.02H930.6V56.2H921.6zM876.6 58.97H930.6V62.92H876.6zM750.6 62.92H759.6V67.66H750.6zM786.6 62.92H930.6V67.66H786.6zM795.6 66.87H813.6V75.96H795.6zM912.6 66.87H921.6V70.83H912.6zM804.6 74.78H813.6V79.92H804.6zM777.6 78.73H804.6V83.47H777.6zM813.6 78.73H822.6V83.47H813.6zM858.6 78.73H867.6V82.68H858.6zM768.6 82.68H786.6V90.59H768.6zM777.6 90.59H795.6V94.54H777.6zM822.6 82.68H831.6V90.59H822.6zM831.6 89.4H840.6V94.54H831.6zM840.6 93.35H849.6V106.4H840.6zM813.6 98.49H822.6V102.44H813.6zM822.6 102.44H831.6V106.4H822.6zM831.6 106.4H858.6V110.35H831.6zM840.6 110.35H858.6V114.3H840.6zM849.6 114.3H858.6V118.25H849.6zM750.6 126.16H768.6V130.9H750.6zM786.6 126.16H813.6V130.9H786.6zM849.6 126.16H867.6V130.9H849.6zM894.6 126.16H930.6V130.9H894.6zM750.6 130.9H759.6V138.81H750.6zM921.6 141.97H930.6V165.69H921.6zM912.6 173.59H921.6V189.4H912.6zM858.6 177.54H867.6V182.29H858.6zM858.6 185.45H867.6V189.4H858.6z" fill="#00008b" shape-rendering="crispEdges"/>
<path d="M804.6 47.11H813.6V51.06H804.6z" fill="#0000ff" shape-rendering="crispEdges"/>
<path d="M804.6 79.92H813.6V83.47H804.6zM786.6 83.47H822.6V89.4H786.6zM795.6 89.4H822.6V94.54H795.6zM822.6 90.59H831.6V94.54H822.6zM804.6 94.54H840.6V98.49H804.6zM822.6 98.49H840.6V102.44H822.6zM831.6 102.44H840.6V106H831.6zM921.6 165.69H930.6V189.4H921.6z" fill="#ffd700" shape-rendering="crispEdges"/>
<rect x="750.6" y="31.3" width="180" height="158.1" fill="none" stroke="#000" stroke-width="1"/>
<path d="M750.6 189.4v2.5M795.6 189.4v2.5M840.6 189.4v2.5M885.6 189.4v2.5M930.6 189.4v2.5" stroke="#000" stroke-width="0.8"/>
<path d="M750.6 31.3h-2.5M750.6 70.83h-2.5M750.6 110.35h-2.5M750.6 149.88h-2.5M750.6 189.4h-2.5" stroke="#000" stroke-width="0.8"/>
<text x="750.6" y="200.3" font-size="12.8" text-anchor="middle">5</text>
<text x="795.6" y="200.3" font-size="12.8" text-anchor="middle">0</text>
<text x="840.6" y="200.3" font-size="12.8" text-anchor="middle">−5</text>
<text x="885.6" y="200.3" font-size="12.8" text-anchor="middle">−10</text>
<text x="930.6" y="200.3" font-size="12.8" text-anchor="middle">−15</text>
<text x="749.3" y="35.5" font-size="12.8" text-anchor="end">96</text>
<text x="749.3" y="75.03" font-size="12.8" text-anchor="end">95</text>
<text x="749.3" y="114.55" font-size="12.8" text-anchor="end">94</text>
<text x="749.3" y="154.07" font-size="12.8" text-anchor="end">93</text>
<text x="749.3" y="193.6" font-size="12.8" text-anchor="end">92</text>
<text x="840.3" y="213.4" font-size="12.8" text-anchor="middle" textLength="109" lengthAdjust="spacingAndGlyphs">Detector Angle (deg)</text>
<text x="731.1" y="110.4" font-size="12.8" text-anchor="middle" transform="rotate(-90 731.1 110.4)" textLength="104.8" lengthAdjust="spacingAndGlyphs">Kinetic Energy (eV)</text>
<rect x="818.4" y="17.3" width="110.5" height="12.3" rx="1.2" fill="#fff" stroke="#d4d4d4" stroke-width="0.8"/>
<text x="828.8" y="26.8" font-size="11.2" textLength="35.2" lengthAdjust="spacingAndGlyphs">Cluster:</text>
<line x1="870.2" y1="24.7" x2="877.6" y2="24.7" stroke="#0000ff" stroke-width="2.8"/>
<text x="880" y="26.8" font-size="11.2">1</text>
<line x1="891.2" y1="24.7" x2="898.6" y2="24.7" stroke="#ffd700" stroke-width="2.8"/>
<text x="900.3" y="26.8" font-size="11.2">2</text>
<line x1="912.6" y1="24.7" x2="920" y2="24.7" stroke="#00008b" stroke-width="2.8"/>
<text x="921.5" y="26.8" font-size="11.2">3</text>
<rect x="989.5" y="31.3" width="179.3" height="158.1" fill="#0000cd"/>
<path d="M1007.43 51.06H1083.63V55.02H1007.43zM1007.43 55.02H1034.33V58.97H1007.43zM1065.7 55.02H1088.12V58.97H1065.7zM989.5 58.97H1007.43V62.92H989.5zM1025.36 58.97H1043.29V62.92H1025.36zM1052.25 58.97H1115.01V62.92H1052.25zM1123.97 58.97H1168.8V62.92H1123.97zM998.47 62.92H1034.33V66.87H998.47zM1043.29 62.92H1070.18V66.87H1043.29zM1016.39 66.87H1061.22V70.83H1016.39zM1097.08 66.87H1106.05V72.8H1097.08zM1123.97 66.87H1168.8V74.78H1123.97zM1016.39 70.83H1043.29V78.73H1016.39zM1052.25 74.78H1061.22V82.68H1052.25zM1079.15 74.78H1088.12V82.68H1079.15zM1097.08 76.75H1168.8V82.68H1097.08zM1007.43 80.71H1020.88V86.63H1007.43zM998.47 86.63H1025.36V92.56H998.47zM1088.12 82.68H1123.97V94.54H1088.12zM1070.18 86.63H1088.12V90.59H1070.18zM1132.94 86.63H1141.9V90.59H1132.94zM1097.08 94.54H1106.05V118.25H1097.08zM1088.12 106.4H1115.01V126.16H1088.12zM1150.87 104.42H1168.8V107.19H1150.87zM989.5 125.37H1168.8V128.53H989.5zM989.5 119.44H998.47V122.21H989.5zM998.47 128.53H1016.39V136.04H998.47zM989.5 136.04H1007.43V139.99H989.5zM1025.36 108.37H1034.33V111.54H1025.36zM1034.33 128.53H1043.29V132.09H1034.33zM1141.9 138.02H1159.84V145.92H1141.9zM1123.97 143.16H1150.87V145.92H1123.97zM1123.97 151.85H1150.87V155.01H1123.97zM1150.87 145.92H1159.84V173.59H1150.87zM1159.84 130.11H1168.8V141.97H1159.84zM1061.22 151.85H1070.18V155.8H1061.22zM1052.25 157.78H1061.22V165.69H1052.25zM1070.18 157.78H1106.05V163.71H1070.18zM1061.22 163.71H1070.18V175.57H1061.22zM1097.08 163.71H1106.05V177.54H1097.08zM1106.05 163.71H1115.01V167.66H1106.05zM1043.29 167.66H1052.25V173.59H1043.29zM1025.36 173.59H1043.29V185.45H1025.36zM1016.39 181.5H1025.36V184.66H1016.39zM1043.29 184.66H1052.25V188.61H1043.29zM1070.18 176.75H1079.15V179.91H1070.18zM1070.18 185.45H1079.15V188.61H1070.18zM1079.15 181.5H1150.87V189.4H1079.15zM1097.08 171.61H1115.01V181.5H1097.08zM1115.01 169.64H1123.97V173.59H1115.01zM1141.9 185.45H1150.87V189.4H1141.9z" fill="#0000ff" shape-rendering="crispEdges"/>
<path d="M989.5 31.3H1168.8V51.06H989.5zM989.5 51.06H1007.43V58.97H989.5zM1079.15 51.06H1097.08V55.02H1079.15zM1088.12 55.02H1097.08V58.97H1088.12zM1106.05 51.06H1168.8V55.02H1106.05zM1106.05 55.02H1115.01V58.97H1106.05zM1141.9 55.02H1159.84V58.97H1141.9zM1115.01 58.97H1123.97V62.92H1115.01zM989.5 62.92H998.47V66.87H989.5zM1034.33 62.92H1043.29V67.66H1034.33zM1070.18 62.92H1168.8V67.66H1070.18zM1043.29 70.83H1052.25V78.73H1043.29zM1025.36 78.73H1052.25V83.47H1025.36zM1007.43 86.63H1025.36V90.59H1007.43zM1016.39 83.47H1025.36V86.63H1016.39zM1025.36 89.4H1034.33V94.54H1025.36zM1061.22 86.63H1070.18V90.59H1061.22zM1070.18 89.4H1079.15V94.54H1070.18zM1052.25 98.49H1061.22V102.44H1052.25zM1061.22 101.65H1070.18V106.4H1061.22zM1079.15 98.49H1088.12V110.35H1079.15zM1070.18 106.4H1088.12V110.35H1070.18zM989.5 128.53H998.47V138.81H989.5zM1159.84 141.97H1168.8V165.69H1159.84zM1150.87 177.54H1159.84V189.4H1150.87z" fill="#00008b" shape-rendering="crispEdges"/>
<path d="M1097.08 40H1106.05V60.15H1097.08zM1043.29 48.3H1052.25V51.06H1043.29z" fill="#0000fe" shape-rendering="crispEdges"/>
<path d="M1025.36 83.87H1061.22V89.4H1025.36zM1052.25 82.68H1061.22V83.87H1052.25zM1034.33 89.4H1061.22V94.54H1034.33zM1061.22 91.38H1070.18V94.54H1061.22zM1043.29 94.54H1052.25V98.49H1043.29zM1061.22 94.54H1079.15V101.65H1061.22zM1070.18 101.65H1079.15V106H1070.18zM1159.84 165.69H1168.8V189.4H1159.84z" fill="#ffd700" shape-rendering="crispEdges"/>
<rect x="989.5" y="31.3" width="179.3" height="158.1" fill="none" stroke="#000" stroke-width="1"/>
<path d="M989.5 189.4v2.5M1034.33 189.4v2.5M1079.15 189.4v2.5M1123.97 189.4v2.5M1168.8 189.4v2.5" stroke="#000" stroke-width="0.8"/>
<path d="M989.5 31.3h-2.5M989.5 70.83h-2.5M989.5 110.35h-2.5M989.5 149.88h-2.5M989.5 189.4h-2.5" stroke="#000" stroke-width="0.8"/>
<text x="989.5" y="200.3" font-size="12.8" text-anchor="middle">5</text>
<text x="1034.33" y="200.3" font-size="12.8" text-anchor="middle">0</text>
<text x="1079.15" y="200.3" font-size="12.8" text-anchor="middle">−5</text>
<text x="1123.97" y="200.3" font-size="12.8" text-anchor="middle">−10</text>
<text x="1168.8" y="200.3" font-size="12.8" text-anchor="middle">−15</text>
<text x="988.2" y="35.5" font-size="12.8" text-anchor="end">96</text>
<text x="988.2" y="75.03" font-size="12.8" text-anchor="end">95</text>
<text x="988.2" y="114.55" font-size="12.8" text-anchor="end">94</text>
<text x="988.2" y="154.07" font-size="12.8" text-anchor="end">93</text>
<text x="988.2" y="193.6" font-size="12.8" text-anchor="end">92</text>
<text x="1079.2" y="213.4" font-size="12.8" text-anchor="middle" textLength="109" lengthAdjust="spacingAndGlyphs">Detector Angle (deg)</text>
<text x="969.5" y="110.4" font-size="12.8" text-anchor="middle" transform="rotate(-90 969.5 110.4)" textLength="104.8" lengthAdjust="spacingAndGlyphs">Kinetic Energy (eV)</text>
<rect x="1036" y="17.3" width="132" height="12.3" rx="1.2" fill="#fff" stroke="#d4d4d4" stroke-width="0.8"/>
<text x="1045.9" y="26.8" font-size="11.2" textLength="35.2" lengthAdjust="spacingAndGlyphs">Cluster:</text>
<line x1="1087.1" y1="24.7" x2="1094.5" y2="24.7" stroke="#0000ff" stroke-width="2.8"/>
<text x="1097" y="26.8" font-size="11.2">1</text>
<line x1="1108.1" y1="24.7" x2="1115.5" y2="24.7" stroke="#ffd700" stroke-width="2.8"/>
<text x="1117.5" y="26.8" font-size="11.2">2</text>
<line x1="1129.8" y1="24.7" x2="1137.2" y2="24.7" stroke="#00008b" stroke-width="2.8"/>
<text x="1139.2" y="26.8" font-size="11.2">3</text>
<line x1="1150.8" y1="24.7" x2="1158.2" y2="24.7" stroke="#0000cd" stroke-width="2.8"/>
<text x="1160.1" y="26.8" font-size="11.2">4</text>
<rect x="514.4" y="245.7" width="178.8" height="156.8" fill="#0000ff"/>
<path d="M514.4 245.7H527.8V280.96H514.4zM527.8 245.7H531.31V269.31H527.8zM531.31 245.7H536.74V273.14H531.31zM536.74 245.7H545.03V266.12H536.74zM545.03 245.7H549.82V270.11H545.03zM549.82 245.7H554.29V261.97H549.82zM554.29 245.7H559.07V270.11H554.29zM559.07 245.7H576.14V266.12H559.07zM576.14 245.7H581.89V270.11H576.14zM581.89 245.7H585.08V266.12H581.89zM585.08 245.7H590.98V270.11H585.08zM590.98 245.7H594.17V266.12H590.98zM594.17 245.7H599.75V273.14H594.17zM599.75 245.7H603.26V266.12H599.75zM603.26 245.7H608.05V270.11H603.26zM608.05 245.7H617.3V273.14H608.05zM617.3 245.7H693.2V280.96H617.3zM554.29 276.01H568.17V280.96H554.29zM585.08 276.01H590.98V280.96H585.08zM594.17 276.01H693.2V280.96H594.17zM661.97 280.96H667.08V284.95H661.97zM671.07 280.96H676.01V284.95H671.07zM680 280.96H685.11V284.95H680zM572.63 287.98H577.1V292.76H572.63zM540.41 291.97H577.1V295.96H540.41zM540.41 295.96H594.97V300.58H540.41zM535.94 300.58H594.97V304.57H535.94zM540.41 304.57H545.83V309.04H540.41zM549.02 304.57H603.74V309.04H549.02zM567.05 309.04H603.74V312.39H567.05zM580.93 312.39H608.85V316.86H580.93zM590.18 316.86H608.85V320.84H590.18zM598.96 320.84H608.85V324.67H598.96zM603.26 324.67H608.85V328.66H603.26zM612.04 324.19H618.1V328.66H612.04zM514.4 338.94H531.67V343.63H514.4zM514.4 343.63H523.77V347.57H514.4zM558.06 338.94H563.98V343.63H558.06zM689.04 338.94H693.2V343.63H689.04zM689.04 354.97H693.2V402.34H689.04zM684.11 370.76H693.2V402.34H684.11zM679.67 386.8H693.2V402.34H679.67zM675.23 390H693.2V402.34H675.23z" fill="#ffd700" shape-rendering="crispEdges"/>
<path d="M518.87 273.14H523.33V276.33H518.87zM612.84 261.97H617.3V265.32H612.84zM622.09 273.14H630.07V276.01H622.09zM636.13 273.14H639.16V276.01H636.13zM645.22 270.11H648.09V272.02H645.22zM654 270.11H661.97V276.01H654zM667.08 273.14H671.07V276.01H667.08zM676.01 273.14H680V276.01H676.01z" fill="#0000fe" shape-rendering="crispEdges"/>
<rect x="514.4" y="245.7" width="178.8" height="156.8" fill="none" stroke="#000" stroke-width="1"/>
<path d="M514.4 402.5v2.5M559.1 402.5v2.5M603.8 402.5v2.5M648.5 402.5v2.5M693.2 402.5v2.5" stroke="#000" stroke-width="0.8"/>
<path d="M514.4 245.7h-2.5M514.4 284.9h-2.5M514.4 324.1h-2.5M514.4 363.3h-2.5M514.4 402.5h-2.5" stroke="#000" stroke-width="0.8"/>
<text x="514.4" y="413.6" font-size="12.8" text-anchor="middle">5</text>
<text x="559.1" y="413.6" font-size="12.8" text-anchor="middle">0</text>
<text x="603.8" y="413.6" font-size="12.8" text-anchor="middle">−5</text>
<text x="648.5" y="413.6" font-size="12.8" text-anchor="middle">−10</text>
<text x="693.2" y="413.6" font-size="12.8" text-anchor="middle">−15</text>
<text x="512.5" y="249.9" font-size="12.8" text-anchor="end">96</text>
<text x="512.5" y="289.1" font-size="12.8" text-anchor="end">95</text>
<text x="512.5" y="328.3" font-size="12.8" text-anchor="end">94</text>
<text x="512.5" y="367.5" font-size="12.8" text-anchor="end">93</text>
<text x="512.5" y="406.7" font-size="12.8" text-anchor="end">92</text>
<text x="603.6" y="426.6" font-size="12.8" text-anchor="middle" textLength="109" lengthAdjust="spacingAndGlyphs">Detector Angle (deg)</text>
<text x="494.8" y="324.2" font-size="12.8" text-anchor="middle" transform="rotate(-90 494.8 324.2)" textLength="104.8" lengthAdjust="spacingAndGlyphs">Kinetic Energy (eV)</text>
<rect x="601.8" y="231.8" width="90.1" height="11.8" rx="1.2" fill="#fff" stroke="#d4d4d4" stroke-width="0.8"/>
<text x="612.9" y="241.2" font-size="11.2" textLength="35.2" lengthAdjust="spacingAndGlyphs">Cluster:</text>
<line x1="654.1" y1="239.2" x2="661.8" y2="239.2" stroke="#0000ff" stroke-width="2.8"/>
<text x="664.2" y="241.2" font-size="11.2">1</text>
<line x1="675.3" y1="239.2" x2="682.7" y2="239.2" stroke="#ffd700" stroke-width="2.8"/>
<text x="685" y="241.2" font-size="11.2">2</text>
<rect x="754.4" y="245.7" width="178.8" height="156.8" fill="#0000ff"/>
<path d="M754.4 245.7H767.8V280.96H754.4zM767.8 245.7H776.74V273.14H767.8zM776.74 245.7H781.52V270.11H776.74zM781.52 245.7H785.03V266.12H781.52zM785.03 245.7H789.82V273.14H785.03zM789.82 245.7H794.29V266.12H789.82zM794.29 245.7H799.07V270.11H794.29zM799.07 245.7H817.1V266.12H799.07zM817.1 245.7H821.89V270.11H817.1zM821.89 245.7H826.19V266.12H821.89zM826.19 245.7H830.98V273.14H826.19zM830.98 245.7H834.97V266.12H830.98zM834.97 245.7H839.75V273.14H834.97zM839.75 245.7H843.74V266.12H839.75zM843.74 245.7H848.05V270.11H843.74zM848.05 245.7H933.2V280.96H848.05zM772.27 276.33H776.74V280.96H772.27zM790.3 276.33H813.11V280.96H790.3zM826.19 276.33H933.2V280.96H826.19zM901.97 280.96H907.08V288.94H901.97zM911.07 280.96H916.01V288.94H911.07zM920 280.96H925.11V284.95H920zM808.17 284.15H813.11V292.76H808.17zM813.11 287.98H817.9V295.96H813.11zM781.52 291.97H817.9V296.75H781.52zM820.93 291.97H826.99V296.75H820.93zM781.52 296.75H800.19V300.74H781.52zM775.94 300.58H800.19V304.57H775.94zM781.52 304.57H785.83V309.04H781.52zM790.3 304.57H800.19V308.72H790.3zM826.19 295.96H835.77V304.57H826.19zM803.06 304.57H809.12V309.04H803.06zM808.17 309.04H813.11V313.03H808.17zM817.1 307.92H822.2V313.03H817.1zM820.93 311.91H830.98V316.86H820.93zM830.18 315.9H839.75V320.84H830.18zM838.96 304.57H844.86V309.04H838.96zM844.86 312.39H848.85V324.67H844.86zM838.96 319.89H853.79V324.67H838.96zM843.74 324.67H848.85V328.66H843.74zM853.32 324.19H858.1V328.66H853.32zM754.4 338.94H772.9V343.63H754.4zM754.4 343.63H767.97V347.57H754.4zM758.1 347.57H763.77V351.77H758.1zM790.17 338.94H795.1V343.63H790.17zM798.8 338.94H803.98V343.63H798.8zM902.4 338.94H906.84V343.63H902.4zM929.04 338.94H933.2V343.63H929.04zM929.04 354.97H933.2V372.74H929.04zM924.11 370.76H929.54V387.54H924.11zM915.23 386.8H925.1V402.34H915.23z" fill="#00008b" shape-rendering="crispEdges"/>
<path d="M758.87 273.14H763.33V276.33H758.87zM853.79 273.14H857.3V276.33H853.79zM862.89 273.14H866.4V276.33H862.89zM876.13 273.14H880.44V276.33H876.13zM885.22 270.11H888.09V272.02H885.22zM894 273.14H897.19V276.33H894zM897.99 270.11H901.97V272.02H897.99z" fill="#0000fe" shape-rendering="crispEdges"/>
<path d="M791.09 296.75H794.29V304.57H791.09zM800.19 297.55H826.19V304.57H800.19zM817.9 295.96H826.19V297.55H817.9zM800.19 304.57H803.06V309.04H800.19zM809.12 304.57H826.19V307.92H809.12zM813.11 307.92H817.1V313.03H813.11zM821.41 304.57H838.96V311.91H821.41zM830.98 311.91H844.86V315.9H830.98zM839.75 315.9H844.86V319.89H839.75zM838.96 309.04H844.86V315.9H838.96zM929.54 372H933.2V402.34H929.54zM925.1 387.54H933.2V402.34H925.1zM920.9 398.64H933.2V402.34H920.9z" fill="#ffd700" shape-rendering="crispEdges"/>
<rect x="754.4" y="245.7" width="178.8" height="156.8" fill="none" stroke="#000" stroke-width="1"/>
<path d="M754.4 402.5v2.5M799.1 402.5v2.5M843.8 402.5v2.5M888.5 402.5v2.5M933.2 402.5v2.5" stroke="#000" stroke-width="0.8"/>
<path d="M754.4 245.7h-2.5M754.4 284.9h-2.5M754.4 324.1h-2.5M754.4 363.3h-2.5M754.4 402.5h-2.5" stroke="#000" stroke-width="0.8"/>
<text x="754.4" y="413.6" font-size="12.8" text-anchor="middle">5</text>
<text x="799.1" y="413.6" font-size="12.8" text-anchor="middle">0</text>
<text x="843.8" y="413.6" font-size="12.8" text-anchor="middle">−5</text>
<text x="888.5" y="413.6" font-size="12.8" text-anchor="middle">−10</text>
<text x="933.2" y="413.6" font-size="12.8" text-anchor="middle">−15</text>
<text x="752.5" y="249.9" font-size="12.8" text-anchor="end">96</text>
<text x="752.5" y="289.1" font-size="12.8" text-anchor="end">95</text>
<text x="752.5" y="328.3" font-size="12.8" text-anchor="end">94</text>
<text x="752.5" y="367.5" font-size="12.8" text-anchor="end">93</text>
<text x="752.5" y="406.7" font-size="12.8" text-anchor="end">92</text>
<text x="843.6" y="426.6" font-size="12.8" text-anchor="middle" textLength="109" lengthAdjust="spacingAndGlyphs">Detector Angle (deg)</text>
<text x="734.8" y="324.2" font-size="12.8" text-anchor="middle" transform="rotate(-90 734.8 324.2)" textLength="104.8" lengthAdjust="spacingAndGlyphs">Kinetic Energy (eV)</text>
<rect x="820.9" y="231.8" width="111" height="11.8" rx="1.2" fill="#fff" stroke="#d4d4d4" stroke-width="0.8"/>
<text x="832.5" y="241.2" font-size="11.2" textLength="35.2" lengthAdjust="spacingAndGlyphs">Cluster:</text>
<line x1="873.9" y1="239.2" x2="881.3" y2="239.2" stroke="#0000ff" stroke-width="2.8"/>
<text x="883.8" y="241.2" font-size="11.2">1</text>
<line x1="894.9" y1="239.2" x2="902.3" y2="239.2" stroke="#ffd700" stroke-width="2.8"/>
<text x="904" y="241.2" font-size="11.2">2</text>
<line x1="916.3" y1="239.2" x2="923.7" y2="239.2" stroke="#00008b" stroke-width="2.8"/>
<text x="925.2" y="241.2" font-size="11.2">3</text>
<rect x="992.9" y="245.5" width="180.1" height="157" fill="#0000cd"/>
<path d="M1006.94 265.92H1082.72V292.56H1006.94zM992.9 272.94H1006.94V276.93H992.9zM992.9 280.76H1006.94V283.79H992.9zM1082.72 280.76H1172.86V284.75H1082.72zM1086.71 284.75H1172.86V287.78H1086.71zM1095.48 287.78H1144.94V294.96H1095.48zM1149.73 287.78H1172.86V292.56H1149.73zM1090.7 294.96H1136.97V300.54H1090.7zM1098.68 300.54H1127.39V306.92H1098.68zM1105.06 306.92H1136.97V310.91H1105.06zM1154.51 292.56H1164.09V298.95H1154.51zM1006.94 300.54H1015.71V307.72H1006.94zM1015.71 304.37H1028.8V307.72H1015.71zM1086.71 316.5H1097.08V326.87H1086.71zM1090.7 326.87H1101.87V329.9H1090.7zM1114.63 316.5H1118.14V319.69H1114.63zM1154.51 320.48H1158.5V323.67H1154.51zM1163.29 320.48H1167.28V323.67H1163.29zM992.9 339.73H1172.97V343.43H992.9zM997.83 343.43H1018.8V349.59H997.83zM992.9 349.59H997.83V354.53H992.9zM1004 349.59H1011.4V354.53H1004zM1029.9 376.73H1041V391.53H1029.9zM1020.03 387.83H1029.9V390.79H1020.03zM1041 391.53H1050.87V397.7H1041zM1050.87 380.43H1055.8V384.13H1050.87zM1060.73 368.09H1064.43V375.5H1060.73zM1078 368.09H1084.17V375.5H1078zM1092.8 368.09H1095.27V375.5H1092.8zM1068.13 375.5H1073.07V387.83H1068.13zM1082.93 387.83H1107.6V402.5H1082.93zM1112.53 373.03H1117.47V377.96H1112.53zM1127.34 380.43H1131.04V385.36H1127.34zM1132.27 356.99H1139.67V359.46H1132.27zM1147.07 353.29H1149.54V359.46H1147.07zM1132.27 363.16H1139.67V366.12H1132.27zM1156.94 359.46H1166.8V391.53H1156.94zM1153.24 375.5H1159.4V387.83H1153.24zM1124.87 396.46H1153.24V402.5H1124.87zM1091.57 331.09H1103.9V340.96H1091.57zM1155.7 321.23H1159.4V323.69H1155.7zM1163.1 321.23H1166.8V323.69H1163.1z" fill="#0000ff" shape-rendering="crispEdges"/>
<path d="M1015.71 272.94H1024.49V276.61H1015.71zM1038.05 268.63H1042.04V272.62H1038.05zM1046.82 265.92H1050.81V269.91H1046.82zM1050.81 272.94H1055.6V276.61H1050.81zM1024.49 284.75H1028.8V288.74H1024.49zM1055.6 280.76H1076.34V292.56H1055.6zM1082.24 288.74H1086.71V294.96H1082.24zM1109.05 292.56H1113.83V296.55H1109.05zM1127.39 284.75H1132.18V292.56H1127.39zM1118.14 304.37H1123.09V307.72H1118.14zM1140.16 294.96H1149.73V300.54H1140.16zM1160.9 294.16H1167.28V297.35H1160.9z" fill="#0000cd" shape-rendering="crispEdges"/>
<path d="M992.9 245.5H1001.36V272.94H992.9zM1001.36 245.5H1006.94V280.76H1001.36zM1006.94 245.5H1015.71V269.91H1006.94zM1015.71 245.5H1024.49V265.92H1015.71zM1024.49 245.5H1028.8V269.91H1024.49zM1028.8 245.5H1033.26V262.25H1028.8zM1033.26 245.5H1038.05V265.92H1033.26zM1038.05 245.5H1042.04V262.25H1038.05zM1042.04 245.5H1046.82V265.92H1042.04zM1046.82 245.5H1050.81V262.25H1046.82zM1050.81 245.5H1055.6V265.92H1050.81zM1055.6 245.5H1059.59V269.91H1055.6zM1059.59 245.5H1064.37V265.92H1059.59zM1064.37 245.5H1069.16V269.91H1064.37zM1069.16 245.5H1073.15V262.25H1069.16zM1073.15 245.5H1077.94V269.91H1073.15zM1077.94 245.5H1082.24V265.92H1077.94zM1082.24 245.5H1086.71V262.25H1082.24zM1086.71 245.5H1091.5V276.61H1086.71zM1091.5 245.5H1095.48V262.25H1091.5zM1095.48 245.5H1105.06V272.94H1095.48zM1105.06 245.5H1109.05V265.92H1105.06zM1109.05 245.5H1172.86V280.76H1109.05zM1082.24 276.61H1172.86V280.76H1082.24zM1091.5 269.43H1095.48V276.61H1091.5zM1105.06 272.94H1109.05V280.76H1105.06zM1140.95 280.76H1144.94V284.75H1140.95zM1158.98 280.76H1164.09V287.78H1158.98zM1028.8 291.77H1033.26V296.55H1028.8zM1038.05 291.77H1042.04V296.55H1038.05zM1046.82 291.77H1055.6V296.55H1046.82zM1015.71 296.55H1028.8V304.37H1015.71zM1019.7 294.96H1024.49V297.35H1019.7zM1031.99 296.55H1038.05V307.72H1031.99zM1028.8 303.73H1033.26V307.72H1028.8zM1041.24 304.37H1050.81V311.71H1041.24zM1046.82 308.52H1051.61V311.71H1046.82zM1055.6 307.72H1069.16V316.5H1055.6zM1064.37 300.54H1073.95V304.37H1064.37zM1077.94 304.37H1082.24V308.52H1077.94zM1069.16 315.7H1077.94V319.69H1069.16zM1077.94 319.69H1086.71V324.47H1077.94zM1082.24 311.71H1086.71V319.69H1082.24zM992.9 339.73H1001.53V343.43H992.9zM992.9 343.43H997.09V347.62H992.9zM1166.8 355.76H1172.97V373.03H1166.8zM1163.1 379.2H1168.04V387.83H1163.1zM1154.47 390.3H1163.1V402.5H1154.47z" fill="#00008b" shape-rendering="crispEdges"/>
<path d="M1114.15 269.91H1118.14V280.76H1114.15zM1123.09 269.91H1127.07V275.81H1123.09zM1132.18 269.91H1140.16V275.81H1132.18zM1146.06 272.94H1148.93V275.81H1146.06zM1154.99 272.94H1158.02V275.81H1154.99zM1164.09 272.94H1166.96V275.81H1164.09zM1069.16 253.96H1073.15V257.15H1069.16zM1077.94 257.94H1082.24V261.13H1077.94z" fill="#0000fe" shape-rendering="crispEdges"/>
<path d="M1028.8 297.35H1031.99V303.73H1028.8zM1038.05 296.55H1064.37V304.37H1038.05zM1042.04 295.76H1064.37V297.35H1042.04zM1038.05 304.37H1041.24V308.52H1038.05zM1050.81 304.37H1064.37V307.72H1050.81zM1051.61 307.72H1055.6V312.83H1051.61zM1060.39 304.37H1077.94V311.71H1060.39zM1069.16 308.52H1082.72V315.7H1069.16zM1077.94 315.7H1082.24V319.69H1077.94zM1167.3 372.29H1172.97V402.5H1167.3zM1163.1 387.83H1172.97V402.5H1163.1zM1158.91 398.93H1172.97V402.5H1158.91z" fill="#ffd700" shape-rendering="crispEdges"/>
<rect x="992.9" y="245.5" width="180.1" height="157" fill="none" stroke="#000" stroke-width="1"/>
<path d="M992.9 402.5v2.5M1037.92 402.5v2.5M1082.95 402.5v2.5M1127.97 402.5v2.5M1173 402.5v2.5" stroke="#000" stroke-width="0.8"/>
<path d="M992.9 245.5h-2.5M992.9 284.75h-2.5M992.9 324h-2.5M992.9 363.25h-2.5M992.9 402.5h-2.5" stroke="#000" stroke-width="0.8"/>
<text x="992.9" y="413.6" font-size="12.8" text-anchor="middle">5</text>
<text x="1037.92" y="413.6" font-size="12.8" text-anchor="middle">0</text>
<text x="1082.95" y="413.6" font-size="12.8" text-anchor="middle">−5</text>
<text x="1127.97" y="413.6" font-size="12.8" text-anchor="middle">−10</text>
<text x="1173" y="413.6" font-size="12.8" text-anchor="middle">−15</text>
<text x="991" y="249.7" font-size="12.8" text-anchor="end">96</text>
<text x="991" y="288.95" font-size="12.8" text-anchor="end">95</text>
<text x="991" y="328.2" font-size="12.8" text-anchor="end">94</text>
<text x="991" y="367.45" font-size="12.8" text-anchor="end">93</text>
<text x="991" y="406.7" font-size="12.8" text-anchor="end">92</text>
<text x="1082.4" y="426.6" font-size="12.8" text-anchor="middle" textLength="109" lengthAdjust="spacingAndGlyphs">Detector Angle (deg)</text>
<text x="973.5" y="324.2" font-size="12.8" text-anchor="middle" transform="rotate(-90 973.5 324.2)" textLength="104.8" lengthAdjust="spacingAndGlyphs">Kinetic Energy (eV)</text>
<rect x="1039.3" y="231.8" width="131.2" height="11.8" rx="1.2" fill="#fff" stroke="#d4d4d4" stroke-width="0.8"/>
<text x="1049.1" y="241.2" font-size="11.2" textLength="35.2" lengthAdjust="spacingAndGlyphs">Cluster:</text>
<line x1="1090.8" y1="239.2" x2="1098.2" y2="239.2" stroke="#0000ff" stroke-width="2.8"/>
<text x="1100.7" y="241.2" font-size="11.2">1</text>
<line x1="1111.8" y1="239.2" x2="1119.2" y2="239.2" stroke="#ffd700" stroke-width="2.8"/>
<text x="1121.2" y="241.2" font-size="11.2">2</text>
<line x1="1133" y1="239.2" x2="1140.4" y2="239.2" stroke="#00008b" stroke-width="2.8"/>
<text x="1142.2" y="241.2" font-size="11.2">3</text>
<line x1="1154" y1="239.2" x2="1161.4" y2="239.2" stroke="#0000cd" stroke-width="2.8"/>
<text x="1163.2" y="241.2" font-size="11.2">4</text>
<rect x="58.5" y="484.5" width="181.2" height="157.5" fill="#6e6e6e"/>
<path d="M132.1 535.54L134.37 533.28L134.37 525.34L136.07 523.07L135.5 518.54L132.67 514.01L131.54 507.77L130.4 506.64L130.97 505.16L132.67 506.64L137.77 509.47L142.87 511.17L144.57 514.01L149.11 515.14L151.94 514.01L153.64 508.34L157.61 504.37L159.88 501.54L161.01 498.14L159.88 497L160.44 495.3L162.14 495.87L165.54 495.3L166.68 492.47L170.08 489.64L173.48 489.07L175.74 485.67L180.28 485.1L180.85 489.07L182.55 489.64L180.85 491.34L182.55 494.17L184.81 495.3L184.25 497L178.01 498.7L180.28 500.4L183.68 500.97L184.25 502.67L181.41 505.5L181.41 509.47L185.38 507.2L188.21 509.47L189.35 515.14L191.05 524.21L192.75 528.74L193.31 534.41L195.01 536.68L194.45 540.08L196.15 544.61L197.28 549.15L200.68 552.55L200.68 570.68L132.1 570.68z" fill="#f4a460"/>
<path d="M107.81 590.61L107.81 602.51L109.51 604.21L109.51 609.88L104.41 610.44L103.84 613.28L106.11 614.41L106.11 621.78L108.38 623.48L107.81 630.85L111.78 634.81L111.78 641.61L118.01 641.61L117.45 638.21L114.61 635.38L115.74 633.11L114.04 630.85L113.48 626.88L115.74 625.18L119.71 624.61L120.85 628.01L122.55 624.61L124.25 617.81L124.81 611.58L125.95 609.88L124.25 607.61L124.81 605.34L128.21 602.51L127.08 599.67L128.21 597.97L125.95 595.14L127.08 592.31L135.58 591.17L133.88 599.11L131.05 601.37L130.48 604.77L128.21 606.47L126.17 609.88L127.65 612.14L128.21 616.68L130.48 620.08L133.88 618.94L140.68 617.81L141.82 619.51L141.82 614.41L144.08 612.14L148.62 613.84L158.82 613.84L160.52 612.14L173.55 611.58L174.69 606.47L180.36 603.07L185.34 599.11L189.31 599.11L191.58 600.81L200.65 600.81L202.91 602.51L209.71 601.94L210.28 599.11L208.58 592.87L206.88 588.34L205.75 586.64L205.75 558.87L107.81 558.87z" fill="#f4a460"/>
<path d="M204.08 581.54L207.48 584.37L218.82 584.94L218.82 587.2L216.55 590.04L215.99 594.57L218.82 597.41L222.22 597.97L227.89 595.14L231.85 592.87L234.69 590.04L234.12 584.37L232.42 582.1L234.69 574.74L238.09 570.77L238.66 564.53L235.82 565.67L234.12 569.64L231.29 571.9L229.02 577L223.35 582.67L218.82 584.37z" fill="#f4a460"/>
<path d="M204.08 581.54L207.48 584.37L218.82 584.94L218.82 586.3L208.62 586.3L205.78 586.98L205.78 582.67z" fill="#f4a460"/>
<path d="M210.32 588.34L212.58 588.34L212.58 590.61L210.32 590.61z" fill="#f4a460"/>
<path d="M163.84 487.93L166.11 487.03L166.34 490.2L162.37 491.34L162.37 489.64z" fill="#f4a460"/>
<path d="M102.14 527.47L107.81 527.7L114.61 529.17L120.85 531.44L125.38 533.7L127.08 535.4L125.95 537.67L125.95 542.2L129.35 544.47L129.35 547.87L124.81 550.14L122.55 547.87L122.55 551.27L118.01 553.54L111.21 551.27L108.94 553.54L110.64 557.51L113.48 561.47L114.61 566.01L114.61 570.54L116.88 577.34L115.74 580.74L112.91 581.88L111.21 578.48L109.51 583.01L108.38 585.28L107.81 590.38L104.41 593.21L95.34 593.21L85.14 594.91L78.34 595.48L71.54 593.78L68.14 593.21L67.57 587.55L69.84 583.58L72.1 577.34L72.1 572.81L70.97 568.28L70.97 560.34L69.84 556.94L70.4 554.11L72.67 552.97L76.64 551.27L77.77 547.87L82.31 543.34L86.84 541.64L94.77 541.64L96.47 537.67L98.74 533.7L101.01 529.74z" fill="#deb887"/>
<path d="M197.28 549.12L200.68 553.09L205.22 554.79L209.18 557.62L212.02 559.32L217.12 563.29L222.22 565.55L226.75 569.07L229.59 573.04L230.15 577L231.85 580.97L229.02 583.24L218.82 584.37L207.48 583.8L204.08 581.54L201.82 578.7L198.42 582.67L195.58 584.94L191.61 581.54L187.08 579.27L183.68 575.3L183.68 570.2L185.95 566.12L189.35 562.72L193.88 558.19L196.15 553.65z" fill="#deb887"/>
<path d="M127.08 535.4L131.61 537.67L137.28 538.24L139.55 542.2L144.08 543.34L148.62 545.61L152.02 545.04L155.42 547.87L155.99 551.27L154.28 554.11L150.88 553.54L149.75 556.94L152.02 560.34L154.28 558.07L157.69 556.94L160.52 559.21L162.22 563.74L164.49 568.28L163.35 571.68L165.62 576.21L164.49 580.74L167.89 583.01L166.75 585.28L158.82 585.28L155.42 581.88L152.02 583.01L148.62 584.15L145.22 583.01L144.08 579.61L146.35 576.21L149.75 572.81L152.02 569.41L153.15 566.01L149.75 568.28L146.35 571.68L142.95 572.81L140.68 575.08L139.55 578.48L137.28 581.88L135.01 584.15L132.75 581.88L129.35 579.61L125.95 580.74L123.68 583.01L123.68 587.55L121.41 590.38L119.15 587.55L118.01 581.88L116.88 577.34L114.61 570.54L114.61 566.01L113.48 561.47L110.64 557.51L108.94 553.54L111.21 551.27L118.01 553.54L122.55 551.27L122.55 547.87L124.81 550.14L129.35 547.87L129.35 544.47L125.95 542.2L125.95 537.67z" fill="#87cefa"/>
<path d="M109.51 578.48L111.78 578.48L112.91 583.01L115.74 584.15L118.01 583.01L119.15 587.55L120.85 590.38L107.81 590.38L108.38 585.28z" fill="#87cefa"/>
<path d="M171.21 533.28L175.74 533.28L176.88 536.68L175.18 538.94L173.48 541.78L171.78 545.74L169.51 549.15L166.68 549.15L166.11 544.61L168.38 540.08L170.08 536.68z" fill="#deb887"/>
<path d="M156.55 543.34L163.35 542.77L158.82 549.01L156.55 553.54L152.02 559.21L149.75 560.34L148.62 558.07L153.15 553.54L155.99 547.87z" fill="#deb887"/>
<path d="M153.15 564.88L154.28 568.28L149.75 573.94L146.35 576.21L144.08 581.88L140.68 585.85L136.15 587.55L132.75 585.85L129.35 583.01L127.08 583.01L124.81 580.74L129.35 579.61L133.88 581.88L138.42 580.74L140.68 575.08L142.95 572.81L147.48 571.68L150.88 568.28z" fill="#deb887"/>
<path d="M178.27 542.38h2.2v2.2h-2.2zM176.35 550.31h2.2v2.2h-2.2zM181.45 552.58h2.2v2.2h-2.2zM183.71 552.58h2.2v2.2h-2.2zM182.58 554.28h2.2v2.2h-2.2zM178.05 556.55h2.2v2.2h-2.2zM180.31 558.25h2.2v2.2h-2.2zM181.45 560.51h2.2v2.2h-2.2zM178.05 562.78h2.2v2.2h-2.2zM182.01 566.18h2.2v2.2h-2.2zM164.44 558.25h2.2v2.2h-2.2zM166.14 562.78h2.2v2.2h-2.2zM159.91 550.31h2.2v2.2h-2.2zM176.91 554.28h2.2v2.2h-2.2zM179.75 554.85h2.2v2.2h-2.2zM157.64 557.11h2.2v2.2h-2.2zM158.78 558.25h2.2v2.2h-2.2zM178.61 567.88h2.2v2.2h-2.2zM178.27 567.97h2.2v2.2h-2.2zM182.35 566.61h2.2v2.2h-2.2zM172.15 574.2h2.2v2.2h-2.2zM170.34 582.14h2.2v2.2h-2.2zM187.91 582.14h2.2v2.2h-2.2zM158.21 583.84h2.2v2.2h-2.2zM166.14 584.06h2.2v2.2h-2.2zM162.18 582.14h2.2v2.2h-2.2zM184.39 558.9h2.2v2.2h-2.2z" fill="#87cefa"/>
<path d="M135.35 567.48h1.6v1.6h-1.6zM133.65 567.48h1.6v1.6h-1.6zM135.35 566.12h1.6v1.6h-1.6zM124.01 562.94h1.6v1.6h-1.6zM130.25 540.84h1.6v1.6h-1.6zM139.88 544.81h1.6v1.6h-1.6zM138.18 564.08h1.6v1.6h-1.6zM148.95 557.27h1.6v1.6h-1.6zM150.65 556.14h1.6v1.6h-1.6z" fill="#f4a460"/>
<path d="M153 563.66h1.4v1.4h-1.4zM153 565h1.4v1.4h-1.4zM153 576.99h1.4v1.4h-1.4zM154.33 558.33h1.4v1.4h-1.4zM154.33 563.66h1.4v1.4h-1.4zM154.33 579.66h1.4v1.4h-1.4zM154.33 580.99h1.4v1.4h-1.4zM155.67 576.99h1.4v1.4h-1.4zM157 563.66h1.4v1.4h-1.4zM157 567.66h1.4v1.4h-1.4zM157 571.66h1.4v1.4h-1.4zM157 576.99h1.4v1.4h-1.4zM157 579.66h1.4v1.4h-1.4zM158.33 563.66h1.4v1.4h-1.4zM158.33 566.33h1.4v1.4h-1.4zM158.33 567.66h1.4v1.4h-1.4zM158.33 571.66h1.4v1.4h-1.4zM158.33 573h1.4v1.4h-1.4zM159.66 574.33h1.4v1.4h-1.4zM159.66 578.33h1.4v1.4h-1.4zM159.66 582.33h1.4v1.4h-1.4zM161 565h1.4v1.4h-1.4zM161 566.33h1.4v1.4h-1.4zM162.33 558.33h1.4v1.4h-1.4zM162.33 567.66h1.4v1.4h-1.4zM162.33 571.66h1.4v1.4h-1.4zM162.33 579.66h1.4v1.4h-1.4zM163.66 561h1.4v1.4h-1.4zM163.66 563.66h1.4v1.4h-1.4zM163.66 567.66h1.4v1.4h-1.4zM163.66 575.66h1.4v1.4h-1.4zM165 561h1.4v1.4h-1.4zM165 562.33h1.4v1.4h-1.4zM165 582.33h1.4v1.4h-1.4z" fill="#f4a460"/>
<path d="M174.48 516.71h1.4v1.4h-1.4zM172.44 521.01h1.4v1.4h-1.4zM146.14 518.97h1.4v1.4h-1.4zM146.14 522.94h1.4v1.4h-1.4z" fill="#6e6e6e"/>
<path d="M101.66 526.42h2.1v2.1h-2.1zM103.36 526.42h2.1v2.1h-2.1zM105.63 526.42h2.1v2.1h-2.1zM113.79 528.46h2.1v2.1h-2.1zM119.8 530.73h2.1v2.1h-2.1zM123.99 532.65h2.1v2.1h-2.1zM97.69 532.65h2.1v2.1h-2.1zM95.65 536.62h2.1v2.1h-2.1zM93.72 540.59h2.1v2.1h-2.1zM85.79 540.59h2.1v2.1h-2.1zM81.48 542.29h2.1v2.1h-2.1zM75.59 550.22h2.1v2.1h-2.1zM71.62 552.26h2.1v2.1h-2.1zM69.35 554.19h2.1v2.1h-2.1zM69.35 555.89h2.1v2.1h-2.1zM69.35 558.16h2.1v2.1h-2.1zM71.62 572.33h2.1v2.1h-2.1zM71.62 574.03h2.1v2.1h-2.1zM71.62 575.73h2.1v2.1h-2.1zM69.35 581.96h2.1v2.1h-2.1zM67.31 585.93h2.1v2.1h-2.1zM67.31 587.63h2.1v2.1h-2.1zM67.31 589.33h2.1v2.1h-2.1zM69.92 592.16h2.1v2.1h-2.1zM77.86 594.2h2.1v2.1h-2.1zM79.56 594.2h2.1v2.1h-2.1zM81.26 594.2h2.1v2.1h-2.1zM82.96 594.2h2.1v2.1h-2.1zM94.06 592.16h2.1v2.1h-2.1zM95.65 592.16h2.1v2.1h-2.1zM97.47 592.16h2.1v2.1h-2.1zM99.39 592.16h2.1v2.1h-2.1zM103.93 592.16h2.1v2.1h-2.1zM105.63 592.16h2.1v2.1h-2.1zM107.89 589.67h2.1v2.1h-2.1zM109.59 589.67h2.1v2.1h-2.1zM111.29 589.67h2.1v2.1h-2.1zM112.99 589.67h2.1v2.1h-2.1zM114.69 589.67h2.1v2.1h-2.1zM119.8 590.12h2.1v2.1h-2.1zM130 536.62h2.1v2.1h-2.1zM131.7 536.62h2.1v2.1h-2.1zM130 544.56h2.1v2.1h-2.1zM133.96 546.82h2.1v2.1h-2.1zM122.06 546.82h2.1v2.1h-2.1zM122.06 548.52h2.1v2.1h-2.1zM123.76 548.52h2.1v2.1h-2.1zM122.06 550.45h2.1v2.1h-2.1zM127.73 548.52h2.1v2.1h-2.1zM110.16 550.45h2.1v2.1h-2.1zM107.89 552.49h2.1v2.1h-2.1zM115.83 552.49h2.1v2.1h-2.1zM117.53 552.49h2.1v2.1h-2.1zM110.16 556.46h2.1v2.1h-2.1zM114.13 558.16h2.1v2.1h-2.1zM115.83 558.16h2.1v2.1h-2.1zM111.86 560.42h2.1v2.1h-2.1zM113.56 560.42h2.1v2.1h-2.1zM114.13 564.39h2.1v2.1h-2.1zM114.13 568.36h2.1v2.1h-2.1zM115.83 575.73h2.1v2.1h-2.1zM115.83 577.43h2.1v2.1h-2.1zM117.53 579.69h2.1v2.1h-2.1zM115.83 581.96h2.1v2.1h-2.1zM111.86 581.96h2.1v2.1h-2.1zM111.86 583.66h2.1v2.1h-2.1zM107.89 584.23h2.1v2.1h-2.1zM118.1 583.66h2.1v2.1h-2.1zM118.1 585.36h2.1v2.1h-2.1zM118.1 587.63h2.1v2.1h-2.1zM122.06 579.69h2.1v2.1h-2.1zM123.76 577.99h2.1v2.1h-2.1zM126.03 568.36h2.1v2.1h-2.1zM127.96 570.06h2.1v2.1h-2.1zM127.96 574.03h2.1v2.1h-2.1zM130 577.99h2.1v2.1h-2.1zM136.01 571.76h2.1v2.1h-2.1zM136.01 574.03h2.1v2.1h-2.1zM139.97 570.06h2.1v2.1h-2.1zM144.17 575.73h2.1v2.1h-2.1zM144.17 581.96h2.1v2.1h-2.1zM148.13 581.96h2.1v2.1h-2.1zM146.09 568.36h2.1v2.1h-2.1zM148.13 566.09h2.1v2.1h-2.1zM141.9 542.29h2.1v2.1h-2.1zM144.17 542.29h2.1v2.1h-2.1zM145.87 542.29h2.1v2.1h-2.1zM144.17 543.99h2.1v2.1h-2.1zM146.43 544.56h2.1v2.1h-2.1zM148.13 544.56h2.1v2.1h-2.1zM146.09 546.82h2.1v2.1h-2.1zM156.07 540.59h2.1v2.1h-2.1zM150.06 552.49h2.1v2.1h-2.1zM158 552.49h2.1v2.1h-2.1zM154.03 556.46h2.1v2.1h-2.1zM152.1 560.42h2.1v2.1h-2.1zM154.03 560.42h2.1v2.1h-2.1zM152.1 562.13h2.1v2.1h-2.1zM154.03 563.83h2.1v2.1h-2.1zM132.26 585.93h2.1v2.1h-2.1zM133.96 588.2h2.1v2.1h-2.1zM136.01 588.2h2.1v2.1h-2.1zM182.14 574.03h2.1v2.1h-2.1zM200.2 552.4h2.1v2.1h-2.1zM204.17 553.99h2.1v2.1h-2.1zM208.13 556.37h2.1v2.1h-2.1zM210.4 558.3h2.1v2.1h-2.1zM212.33 558.3h2.1v2.1h-2.1zM216.41 562.49h2.1v2.1h-2.1zM220.6 564.19h2.1v2.1h-2.1zM222.3 564.19h2.1v2.1h-2.1zM224.57 566.23h2.1v2.1h-2.1zM226.27 567.93h2.1v2.1h-2.1zM155.99 540.73h2.1v2.1h-2.1zM211.53 558.95h2.1v2.1h-2.1zM216.07 562.35h2.1v2.1h-2.1zM220.6 564.05h2.1v2.1h-2.1zM222.3 564.05h2.1v2.1h-2.1zM224.57 566.32h2.1v2.1h-2.1zM226.27 568.02h2.1v2.1h-2.1zM227.97 570.29h2.1v2.1h-2.1zM228.54 572.33h2.1v2.1h-2.1zM230.8 579.92h2.1v2.1h-2.1zM228.54 582.19h2.1v2.1h-2.1zM224.57 582.19h2.1v2.1h-2.1zM222.87 582.19h2.1v2.1h-2.1zM220.6 582.19h2.1v2.1h-2.1zM218.34 582.19h2.1v2.1h-2.1zM218.34 583.89h2.1v2.1h-2.1zM216.07 582.19h2.1v2.1h-2.1zM214.37 582.19h2.1v2.1h-2.1zM212.33 582.19h2.1v2.1h-2.1zM206.43 582.19h2.1v2.1h-2.1zM194.53 583.89h2.1v2.1h-2.1zM194.53 585.59h2.1v2.1h-2.1zM190.34 580.26h2.1v2.1h-2.1zM186.37 578.22h2.1v2.1h-2.1zM182.4 574.25h2.1v2.1h-2.1zM143.52 576.18h2.1v2.1h-2.1zM143.52 582.19h2.1v2.1h-2.1zM148.06 582.19h2.1v2.1h-2.1zM131.62 586.15h2.1v2.1h-2.1zM133.66 588.2h2.1v2.1h-2.1zM135.59 588.2h2.1v2.1h-2.1z" fill="#ba55d3"/>
<rect x="58.5" y="484.5" width="181.2" height="157.5" fill="url(#dotp)"/>
<rect x="58.5" y="484.5" width="181.2" height="157.5" fill="none" stroke="#000" stroke-width="1"/>
<path d="M98.5 642v2.5M149.1 642v2.5M199.1 642v2.5" stroke="#000" stroke-width="0.8"/>
<path d="M58.5 485.2h-2.5M58.5 524.7h-2.5M58.5 563.6h-2.5M58.5 602.3h-2.5M58.5 641.6h-2.5" stroke="#000" stroke-width="0.8"/>
<text x="98.5" y="653.6" font-size="12.8" text-anchor="middle">−25</text>
<text x="149.1" y="653.6" font-size="12.8" text-anchor="middle">0</text>
<text x="199.1" y="653.6" font-size="12.8" text-anchor="middle">25</text>
<text x="55" y="489.4" font-size="12.8" text-anchor="end">40</text>
<text x="55" y="528.9" font-size="12.8" text-anchor="end">20</text>
<text x="55" y="567.8" font-size="12.8" text-anchor="end">0</text>
<text x="55" y="606.5" font-size="12.8" text-anchor="end">−20</text>
<text x="55" y="645.8" font-size="12.8" text-anchor="end">−40</text>
<text x="149.2" y="666.8" font-size="12.8" text-anchor="middle" textLength="41" lengthAdjust="spacingAndGlyphs">X (mm)</text>
<text x="32.4" y="563.5" font-size="12.8" text-anchor="middle" transform="rotate(-90 32.4 563.5)" textLength="41" lengthAdjust="spacingAndGlyphs">Y (mm)</text>
<rect x="135.4" y="469.2" width="101.9" height="13.7" rx="1.2" fill="#fff" stroke="#d4d4d4" stroke-width="0.8"/>
<circle cx="140" cy="477.7" r="4.3" fill="#6e6e6e"/>
<text x="145.4" y="479.2" font-size="11.5" fill="#6e6e6e">1</text>
<circle cx="161.5" cy="477.7" r="4.3" fill="#deb887"/>
<text x="166.9" y="479.2" font-size="11.5" fill="#deb887">2</text>
<circle cx="182.6" cy="477.7" r="4.3" fill="#f4a460"/>
<text x="188" y="479.2" font-size="11.5" fill="#f4a460">3</text>
<circle cx="203.8" cy="477.7" r="4.3" fill="#87cefa"/>
<text x="209.2" y="479.2" font-size="11.5" fill="#87cefa">4</text>
<circle cx="225.2" cy="477.7" r="4.3" fill="#ba55d3"/>
<text x="230.6" y="479.2" font-size="11.5" fill="#ba55d3">5</text>
<rect x="58.5" y="698.5" width="181.2" height="158.5" fill="#6e6e6e"/>
<g transform="translate(0 698.5) scale(1 1.01) translate(0 -484.5)">
<path d="M132.1 535.54L134.37 533.28L134.37 525.34L136.07 523.07L135.5 518.54L132.67 514.01L131.54 507.77L130.4 506.64L130.97 505.16L132.67 506.64L137.77 509.47L142.87 511.17L144.57 514.01L149.11 515.14L151.94 514.01L153.64 508.34L157.61 504.37L159.88 501.54L161.01 498.14L159.88 497L160.44 495.3L162.14 495.87L165.54 495.3L166.68 492.47L170.08 489.64L173.48 489.07L175.74 485.67L180.28 485.1L180.85 489.07L182.55 489.64L180.85 491.34L182.55 494.17L184.81 495.3L184.25 497L178.01 498.7L180.28 500.4L183.68 500.97L184.25 502.67L181.41 505.5L181.41 509.47L185.38 507.2L188.21 509.47L189.35 515.14L191.05 524.21L192.75 528.74L193.31 534.41L195.01 536.68L194.45 540.08L196.15 544.61L197.28 549.15L200.68 552.55L200.68 570.68L132.1 570.68z" fill="#f4a460"/>
<path d="M107.81 590.61L107.81 602.51L109.51 604.21L109.51 609.88L104.41 610.44L103.84 613.28L106.11 614.41L106.11 621.78L108.38 623.48L107.81 630.85L111.78 634.81L111.78 641.61L118.01 641.61L117.45 638.21L114.61 635.38L115.74 633.11L114.04 630.85L113.48 626.88L115.74 625.18L119.71 624.61L120.85 628.01L122.55 624.61L124.25 617.81L124.81 611.58L125.95 609.88L124.25 607.61L124.81 605.34L128.21 602.51L127.08 599.67L128.21 597.97L125.95 595.14L127.08 592.31L135.58 591.17L133.88 599.11L131.05 601.37L130.48 604.77L128.21 606.47L126.17 609.88L127.65 612.14L128.21 616.68L130.48 620.08L133.88 618.94L140.68 617.81L141.82 619.51L141.82 614.41L144.08 612.14L148.62 613.84L158.82 613.84L160.52 612.14L173.55 611.58L174.69 606.47L180.36 603.07L185.34 599.11L189.31 599.11L191.58 600.81L200.65 600.81L202.91 602.51L209.71 601.94L210.28 599.11L208.58 592.87L206.88 588.34L205.75 586.64L205.75 558.87L107.81 558.87z" fill="#f4a460"/>
<path d="M204.08 581.54L207.48 584.37L218.82 584.94L218.82 587.2L216.55 590.04L215.99 594.57L218.82 597.41L222.22 597.97L227.89 595.14L231.85 592.87L234.69 590.04L234.12 584.37L232.42 582.1L234.69 574.74L238.09 570.77L238.66 564.53L235.82 565.67L234.12 569.64L231.29 571.9L229.02 577L223.35 582.67L218.82 584.37z" fill="#f4a460"/>
<path d="M204.08 581.54L207.48 584.37L218.82 584.94L218.82 586.3L208.62 586.3L205.78 586.98L205.78 582.67z" fill="#f4a460"/>
<path d="M210.32 588.34L212.58 588.34L212.58 590.61L210.32 590.61z" fill="#f4a460"/>
<path d="M163.84 487.93L166.11 487.03L166.34 490.2L162.37 491.34L162.37 489.64z" fill="#f4a460"/>
<path d="M102.14 527.47L107.81 527.7L114.61 529.17L120.85 531.44L125.38 533.7L127.08 535.4L125.95 537.67L125.95 542.2L129.35 544.47L129.35 547.87L124.81 550.14L122.55 547.87L122.55 551.27L118.01 553.54L111.21 551.27L108.94 553.54L110.64 557.51L113.48 561.47L114.61 566.01L114.61 570.54L116.88 577.34L115.74 580.74L112.91 581.88L111.21 578.48L109.51 583.01L108.38 585.28L107.81 590.38L104.41 593.21L95.34 593.21L85.14 594.91L78.34 595.48L71.54 593.78L68.14 593.21L67.57 587.55L69.84 583.58L72.1 577.34L72.1 572.81L70.97 568.28L70.97 560.34L69.84 556.94L70.4 554.11L72.67 552.97L76.64 551.27L77.77 547.87L82.31 543.34L86.84 541.64L94.77 541.64L96.47 537.67L98.74 533.7L101.01 529.74z" fill="#deb887"/>
<path d="M197.28 549.12L200.68 553.09L205.22 554.79L209.18 557.62L212.02 559.32L217.12 563.29L222.22 565.55L226.75 569.07L229.59 573.04L230.15 577L231.85 580.97L229.02 583.24L218.82 584.37L207.48 583.8L204.08 581.54L201.82 578.7L198.42 582.67L195.58 584.94L191.61 581.54L187.08 579.27L183.68 575.3L183.68 570.2L185.95 566.12L189.35 562.72L193.88 558.19L196.15 553.65z" fill="#deb887"/>
<path d="M127.08 535.4L131.61 537.67L137.28 538.24L139.55 542.2L144.08 543.34L148.62 545.61L152.02 545.04L155.42 547.87L155.99 551.27L154.28 554.11L150.88 553.54L149.75 556.94L152.02 560.34L154.28 558.07L157.69 556.94L160.52 559.21L162.22 563.74L164.49 568.28L163.35 571.68L165.62 576.21L164.49 580.74L167.89 583.01L166.75 585.28L158.82 585.28L155.42 581.88L152.02 583.01L148.62 584.15L145.22 583.01L144.08 579.61L146.35 576.21L149.75 572.81L152.02 569.41L153.15 566.01L149.75 568.28L146.35 571.68L142.95 572.81L140.68 575.08L139.55 578.48L137.28 581.88L135.01 584.15L132.75 581.88L129.35 579.61L125.95 580.74L123.68 583.01L123.68 587.55L121.41 590.38L119.15 587.55L118.01 581.88L116.88 577.34L114.61 570.54L114.61 566.01L113.48 561.47L110.64 557.51L108.94 553.54L111.21 551.27L118.01 553.54L122.55 551.27L122.55 547.87L124.81 550.14L129.35 547.87L129.35 544.47L125.95 542.2L125.95 537.67z" fill="#87cefa"/>
<path d="M109.51 578.48L111.78 578.48L112.91 583.01L115.74 584.15L118.01 583.01L119.15 587.55L120.85 590.38L107.81 590.38L108.38 585.28z" fill="#87cefa"/>
<path d="M171.21 533.28L175.74 533.28L176.88 536.68L175.18 538.94L173.48 541.78L171.78 545.74L169.51 549.15L166.68 549.15L166.11 544.61L168.38 540.08L170.08 536.68z" fill="#deb887"/>
<path d="M156.55 543.34L163.35 542.77L158.82 549.01L156.55 553.54L152.02 559.21L149.75 560.34L148.62 558.07L153.15 553.54L155.99 547.87z" fill="#deb887"/>
<path d="M153.15 564.88L154.28 568.28L149.75 573.94L146.35 576.21L144.08 581.88L140.68 585.85L136.15 587.55L132.75 585.85L129.35 583.01L127.08 583.01L124.81 580.74L129.35 579.61L133.88 581.88L138.42 580.74L140.68 575.08L142.95 572.81L147.48 571.68L150.88 568.28z" fill="#deb887"/>
<path d="M178.27 542.38h2.2v2.2h-2.2zM176.35 550.31h2.2v2.2h-2.2zM181.45 552.58h2.2v2.2h-2.2zM183.71 552.58h2.2v2.2h-2.2zM182.58 554.28h2.2v2.2h-2.2zM178.05 556.55h2.2v2.2h-2.2zM180.31 558.25h2.2v2.2h-2.2zM181.45 560.51h2.2v2.2h-2.2zM178.05 562.78h2.2v2.2h-2.2zM182.01 566.18h2.2v2.2h-2.2zM164.44 558.25h2.2v2.2h-2.2zM166.14 562.78h2.2v2.2h-2.2zM159.91 550.31h2.2v2.2h-2.2zM176.91 554.28h2.2v2.2h-2.2zM179.75 554.85h2.2v2.2h-2.2zM157.64 557.11h2.2v2.2h-2.2zM158.78 558.25h2.2v2.2h-2.2zM178.61 567.88h2.2v2.2h-2.2zM178.27 567.97h2.2v2.2h-2.2zM182.35 566.61h2.2v2.2h-2.2zM172.15 574.2h2.2v2.2h-2.2zM170.34 582.14h2.2v2.2h-2.2zM187.91 582.14h2.2v2.2h-2.2zM158.21 583.84h2.2v2.2h-2.2zM166.14 584.06h2.2v2.2h-2.2zM162.18 582.14h2.2v2.2h-2.2zM184.39 558.9h2.2v2.2h-2.2z" fill="#87cefa"/>
<path d="M135.35 567.48h1.6v1.6h-1.6zM133.65 567.48h1.6v1.6h-1.6zM135.35 566.12h1.6v1.6h-1.6zM124.01 562.94h1.6v1.6h-1.6zM130.25 540.84h1.6v1.6h-1.6zM139.88 544.81h1.6v1.6h-1.6zM138.18 564.08h1.6v1.6h-1.6zM148.95 557.27h1.6v1.6h-1.6zM150.65 556.14h1.6v1.6h-1.6z" fill="#f4a460"/>
<path d="M153 563.66h1.4v1.4h-1.4zM153 565h1.4v1.4h-1.4zM153 576.99h1.4v1.4h-1.4zM154.33 558.33h1.4v1.4h-1.4zM154.33 563.66h1.4v1.4h-1.4zM154.33 579.66h1.4v1.4h-1.4zM154.33 580.99h1.4v1.4h-1.4zM155.67 576.99h1.4v1.4h-1.4zM157 563.66h1.4v1.4h-1.4zM157 567.66h1.4v1.4h-1.4zM157 571.66h1.4v1.4h-1.4zM157 576.99h1.4v1.4h-1.4zM157 579.66h1.4v1.4h-1.4zM158.33 563.66h1.4v1.4h-1.4zM158.33 566.33h1.4v1.4h-1.4zM158.33 567.66h1.4v1.4h-1.4zM158.33 571.66h1.4v1.4h-1.4zM158.33 573h1.4v1.4h-1.4zM159.66 574.33h1.4v1.4h-1.4zM159.66 578.33h1.4v1.4h-1.4zM159.66 582.33h1.4v1.4h-1.4zM161 565h1.4v1.4h-1.4zM161 566.33h1.4v1.4h-1.4zM162.33 558.33h1.4v1.4h-1.4zM162.33 567.66h1.4v1.4h-1.4zM162.33 571.66h1.4v1.4h-1.4zM162.33 579.66h1.4v1.4h-1.4zM163.66 561h1.4v1.4h-1.4zM163.66 563.66h1.4v1.4h-1.4zM163.66 567.66h1.4v1.4h-1.4zM163.66 575.66h1.4v1.4h-1.4zM165 561h1.4v1.4h-1.4zM165 562.33h1.4v1.4h-1.4zM165 582.33h1.4v1.4h-1.4z" fill="#f4a460"/>
<path d="M174.48 516.71h1.4v1.4h-1.4zM172.44 521.01h1.4v1.4h-1.4zM146.14 518.97h1.4v1.4h-1.4zM146.14 522.94h1.4v1.4h-1.4z" fill="#6e6e6e"/>
<path d="M173.5 543.15L180.3 540.86L183.7 541.46L189.3 537.48L191.6 534.1L192.7 538.58L191.6 543.15L193.9 547.62L196.1 552.09L198.4 557.76L193.9 558.85L189.3 561.14L185.3 563.82L182.5 570.68L185.3 577.64L190.8 581.72L185.3 583.11L177 584.5L165.9 585.2L157.6 584.5L147.9 585.2L147.9 577.64L152 573.47L157.6 569.39L154.8 563.82L155.3 561.14L159.9 553.29L164.4 553.29L168.9 557.76L172.3 552.09L173.5 547.62z" fill="#ba55d3"/>
<path d="M125.7 583.11L135.4 583.11L135.4 589.97L122 589.97L120 585.39z" fill="#ba55d3"/>
<path d="M132.6 566.51L139.6 566.51L139.6 572.07L132.6 572.07z" fill="#ba55d3"/>
<path d="M147.18 578.6h1.45v1.45h-1.45zM147.18 581.26h1.45v1.45h-1.45zM148.51 575.94h1.45v1.45h-1.45zM148.51 578.6h1.45v1.45h-1.45zM148.51 581.26h1.45v1.45h-1.45zM148.51 582.59h1.45v1.45h-1.45zM149.84 575.94h1.45v1.45h-1.45zM151.17 573.28h1.45v1.45h-1.45zM151.17 577.27h1.45v1.45h-1.45zM151.17 578.6h1.45v1.45h-1.45zM151.17 582.59h1.45v1.45h-1.45zM152.5 575.94h1.45v1.45h-1.45zM152.5 577.27h1.45v1.45h-1.45zM155.16 561.31h1.45v1.45h-1.45zM155.16 570.62h1.45v1.45h-1.45zM155.16 573.28h1.45v1.45h-1.45zM156.49 565.3h1.45v1.45h-1.45zM156.49 577.27h1.45v1.45h-1.45zM156.49 579.93h1.45v1.45h-1.45zM156.49 581.26h1.45v1.45h-1.45zM156.49 582.59h1.45v1.45h-1.45zM157.82 557.32h1.45v1.45h-1.45zM157.82 562.64h1.45v1.45h-1.45zM157.82 577.27h1.45v1.45h-1.45zM157.82 578.6h1.45v1.45h-1.45zM159.15 555.99h1.45v1.45h-1.45zM159.15 567.96h1.45v1.45h-1.45zM159.15 577.27h1.45v1.45h-1.45zM159.15 579.93h1.45v1.45h-1.45zM159.15 581.26h1.45v1.45h-1.45zM159.15 583.92h1.45v1.45h-1.45zM160.48 554.66h1.45v1.45h-1.45zM160.48 555.99h1.45v1.45h-1.45zM160.48 557.32h1.45v1.45h-1.45zM160.48 558.65h1.45v1.45h-1.45zM160.48 561.31h1.45v1.45h-1.45zM160.48 565.3h1.45v1.45h-1.45zM160.48 570.62h1.45v1.45h-1.45zM160.48 577.27h1.45v1.45h-1.45zM160.48 578.6h1.45v1.45h-1.45zM160.48 583.92h1.45v1.45h-1.45zM161.81 553.33h1.45v1.45h-1.45zM161.81 557.32h1.45v1.45h-1.45zM161.81 559.98h1.45v1.45h-1.45zM161.81 569.29h1.45v1.45h-1.45zM163.14 557.32h1.45v1.45h-1.45zM163.14 558.65h1.45v1.45h-1.45zM163.14 574.61h1.45v1.45h-1.45zM164.47 554.66h1.45v1.45h-1.45zM164.47 562.64h1.45v1.45h-1.45zM164.47 574.61h1.45v1.45h-1.45zM164.47 575.94h1.45v1.45h-1.45zM164.47 577.27h1.45v1.45h-1.45zM164.47 581.26h1.45v1.45h-1.45zM165.8 559.98h1.45v1.45h-1.45zM165.8 561.31h1.45v1.45h-1.45zM165.8 581.26h1.45v1.45h-1.45zM167.13 567.96h1.45v1.45h-1.45zM167.13 570.62h1.45v1.45h-1.45zM167.13 571.95h1.45v1.45h-1.45zM167.13 574.61h1.45v1.45h-1.45zM168.46 557.32h1.45v1.45h-1.45zM169.79 559.98h1.45v1.45h-1.45zM169.79 561.31h1.45v1.45h-1.45zM169.79 563.97h1.45v1.45h-1.45zM169.79 566.63h1.45v1.45h-1.45zM169.79 571.95h1.45v1.45h-1.45zM169.79 575.94h1.45v1.45h-1.45zM171.12 555.99h1.45v1.45h-1.45zM171.12 561.31h1.45v1.45h-1.45zM171.12 565.3h1.45v1.45h-1.45zM171.12 569.29h1.45v1.45h-1.45zM171.12 574.61h1.45v1.45h-1.45zM171.12 579.93h1.45v1.45h-1.45zM171.12 582.59h1.45v1.45h-1.45zM172.45 550.67h1.45v1.45h-1.45zM172.45 557.32h1.45v1.45h-1.45zM172.45 562.64h1.45v1.45h-1.45zM172.45 563.97h1.45v1.45h-1.45zM172.45 567.96h1.45v1.45h-1.45zM172.45 573.28h1.45v1.45h-1.45zM172.45 575.94h1.45v1.45h-1.45zM173.78 542.69h1.45v1.45h-1.45zM173.78 546.68h1.45v1.45h-1.45zM173.78 548.01h1.45v1.45h-1.45zM173.78 549.34h1.45v1.45h-1.45zM173.78 558.65h1.45v1.45h-1.45zM173.78 561.31h1.45v1.45h-1.45zM173.78 563.97h1.45v1.45h-1.45zM173.78 567.96h1.45v1.45h-1.45zM173.78 571.95h1.45v1.45h-1.45zM175.11 549.34h1.45v1.45h-1.45zM175.11 550.67h1.45v1.45h-1.45zM175.11 552h1.45v1.45h-1.45zM175.11 555.99h1.45v1.45h-1.45zM175.11 557.32h1.45v1.45h-1.45zM175.11 567.96h1.45v1.45h-1.45zM175.11 581.26h1.45v1.45h-1.45zM176.44 546.68h1.45v1.45h-1.45zM176.44 549.34h1.45v1.45h-1.45zM176.44 552h1.45v1.45h-1.45zM176.44 553.33h1.45v1.45h-1.45zM176.44 569.29h1.45v1.45h-1.45zM176.44 573.28h1.45v1.45h-1.45zM176.44 581.26h1.45v1.45h-1.45zM177.77 553.33h1.45v1.45h-1.45zM177.77 554.66h1.45v1.45h-1.45zM177.77 557.32h1.45v1.45h-1.45zM177.77 566.63h1.45v1.45h-1.45zM177.77 574.61h1.45v1.45h-1.45zM177.77 578.6h1.45v1.45h-1.45zM179.1 553.33h1.45v1.45h-1.45zM179.1 554.66h1.45v1.45h-1.45zM179.1 561.31h1.45v1.45h-1.45zM179.1 562.64h1.45v1.45h-1.45zM179.1 574.61h1.45v1.45h-1.45zM179.1 577.27h1.45v1.45h-1.45zM179.1 581.26h1.45v1.45h-1.45zM180.43 552h1.45v1.45h-1.45zM180.43 555.99h1.45v1.45h-1.45zM180.43 566.63h1.45v1.45h-1.45zM180.43 567.96h1.45v1.45h-1.45zM180.43 573.28h1.45v1.45h-1.45zM180.43 578.6h1.45v1.45h-1.45zM180.43 582.59h1.45v1.45h-1.45zM181.76 555.99h1.45v1.45h-1.45zM181.76 557.32h1.45v1.45h-1.45zM181.76 566.63h1.45v1.45h-1.45zM181.76 579.93h1.45v1.45h-1.45zM183.09 545.35h1.45v1.45h-1.45zM183.09 548.01h1.45v1.45h-1.45zM183.09 562.64h1.45v1.45h-1.45zM183.09 563.97h1.45v1.45h-1.45zM183.09 579.93h1.45v1.45h-1.45zM183.09 581.26h1.45v1.45h-1.45zM183.09 582.59h1.45v1.45h-1.45zM184.42 541.36h1.45v1.45h-1.45zM184.42 555.99h1.45v1.45h-1.45zM184.42 559.98h1.45v1.45h-1.45zM185.75 546.68h1.45v1.45h-1.45zM185.75 548.01h1.45v1.45h-1.45zM185.75 554.66h1.45v1.45h-1.45zM185.75 579.93h1.45v1.45h-1.45zM185.75 581.26h1.45v1.45h-1.45zM187.08 549.34h1.45v1.45h-1.45zM187.08 557.32h1.45v1.45h-1.45zM187.08 579.93h1.45v1.45h-1.45zM187.08 581.26h1.45v1.45h-1.45zM188.41 544.02h1.45v1.45h-1.45zM188.41 559.98h1.45v1.45h-1.45zM189.74 542.69h1.45v1.45h-1.45zM189.74 548.01h1.45v1.45h-1.45zM191.07 541.36h1.45v1.45h-1.45zM191.07 549.34h1.45v1.45h-1.45zM191.07 554.66h1.45v1.45h-1.45zM191.07 555.99h1.45v1.45h-1.45zM191.07 557.32h1.45v1.45h-1.45zM192.4 554.66h1.45v1.45h-1.45zM193.73 549.34h1.45v1.45h-1.45zM193.73 555.99h1.45v1.45h-1.45zM193.73 557.32h1.45v1.45h-1.45zM195.06 555.99h1.45v1.45h-1.45z" fill="#f4a460"/>
<path d="M159.2 570.68h1.6v1.6h-1.6zM160.5 572.17h1.6v1.6h-1.6zM159.2 573.66h1.6v1.6h-1.6zM161.7 569.19h1.6v1.6h-1.6z" fill="#87cefa"/>
<path d="M132.58 510.58h1.5v1.5h-1.5zM132.58 513.24h1.5v1.5h-1.5zM133.91 510.58h1.5v1.5h-1.5zM133.91 511.91h1.5v1.5h-1.5zM133.91 514.57h1.5v1.5h-1.5zM135.24 511.91h1.5v1.5h-1.5zM135.24 513.24h1.5v1.5h-1.5zM135.24 514.57h1.5v1.5h-1.5zM135.24 517.23h1.5v1.5h-1.5zM135.24 521.22h1.5v1.5h-1.5zM135.24 522.55h1.5v1.5h-1.5zM136.57 511.91h1.5v1.5h-1.5zM136.57 514.57h1.5v1.5h-1.5zM136.57 515.9h1.5v1.5h-1.5zM136.57 517.23h1.5v1.5h-1.5zM137.9 509.25h1.5v1.5h-1.5zM137.9 510.58h1.5v1.5h-1.5zM137.9 515.9h1.5v1.5h-1.5zM137.9 517.23h1.5v1.5h-1.5zM137.9 522.55h1.5v1.5h-1.5zM139.23 517.23h1.5v1.5h-1.5zM139.23 518.56h1.5v1.5h-1.5zM139.23 519.89h1.5v1.5h-1.5zM139.23 522.55h1.5v1.5h-1.5zM140.56 510.58h1.5v1.5h-1.5zM140.56 513.24h1.5v1.5h-1.5zM140.56 514.57h1.5v1.5h-1.5zM140.56 515.9h1.5v1.5h-1.5zM140.56 518.56h1.5v1.5h-1.5zM141.89 510.58h1.5v1.5h-1.5zM141.89 511.91h1.5v1.5h-1.5zM141.89 513.24h1.5v1.5h-1.5zM141.89 518.56h1.5v1.5h-1.5zM143.22 517.23h1.5v1.5h-1.5zM143.22 519.89h1.5v1.5h-1.5zM143.22 522.55h1.5v1.5h-1.5zM144.55 515.9h1.5v1.5h-1.5zM144.55 517.23h1.5v1.5h-1.5zM144.55 518.56h1.5v1.5h-1.5zM144.55 519.89h1.5v1.5h-1.5zM154.25 506.58h1.5v1.5h-1.5zM154.25 511.9h1.5v1.5h-1.5zM154.25 517.22h1.5v1.5h-1.5zM155.58 510.57h1.5v1.5h-1.5zM155.58 511.9h1.5v1.5h-1.5zM155.58 513.23h1.5v1.5h-1.5zM155.58 514.56h1.5v1.5h-1.5zM156.91 510.57h1.5v1.5h-1.5zM156.91 514.56h1.5v1.5h-1.5zM158.24 505.25h1.5v1.5h-1.5zM158.24 507.91h1.5v1.5h-1.5zM158.24 509.24h1.5v1.5h-1.5zM158.24 510.57h1.5v1.5h-1.5zM158.24 514.56h1.5v1.5h-1.5zM158.24 515.89h1.5v1.5h-1.5zM158.24 517.22h1.5v1.5h-1.5zM159.57 506.58h1.5v1.5h-1.5zM159.57 507.91h1.5v1.5h-1.5zM159.57 509.24h1.5v1.5h-1.5zM159.57 513.23h1.5v1.5h-1.5zM159.57 514.56h1.5v1.5h-1.5zM160.9 506.58h1.5v1.5h-1.5zM160.9 507.91h1.5v1.5h-1.5zM160.9 511.9h1.5v1.5h-1.5zM160.9 513.23h1.5v1.5h-1.5zM160.9 515.89h1.5v1.5h-1.5zM162.23 511.9h1.5v1.5h-1.5zM162.23 514.56h1.5v1.5h-1.5zM162.23 515.89h1.5v1.5h-1.5zM159.25 509.22h1.5v1.5h-1.5zM161.91 507.89h1.5v1.5h-1.5zM164.57 506.56h1.5v1.5h-1.5zM164.57 510.55h1.5v1.5h-1.5zM167.23 498.58h1.5v1.5h-1.5zM168.56 503.9h1.5v1.5h-1.5zM169.89 497.25h1.5v1.5h-1.5zM172.55 509.22h1.5v1.5h-1.5zM176.54 503.9h1.5v1.5h-1.5zM177.87 499.91h1.5v1.5h-1.5zM177.87 501.24h1.5v1.5h-1.5zM179.2 499.91h1.5v1.5h-1.5zM179.2 501.24h1.5v1.5h-1.5zM170.58 491.24h1.5v1.5h-1.5zM171.91 491.24h1.5v1.5h-1.5zM174.57 487.25h1.5v1.5h-1.5zM174.57 492.57h1.5v1.5h-1.5zM174.57 495.23h1.5v1.5h-1.5zM177.23 492.57h1.5v1.5h-1.5zM178.56 488.58h1.5v1.5h-1.5zM179.89 491.24h1.5v1.5h-1.5zM162.38 592.01h1.5v1.5h-1.5zM166.53 592.7h1.5v1.5h-1.5zM169.3 594.76h1.5v1.5h-1.5zM170.69 598.2h1.5v1.5h-1.5zM160.99 600.27h1.5v1.5h-1.5zM164.45 600.27h1.5v1.5h-1.5zM166.53 602.34h1.5v1.5h-1.5zM158.22 603.71h1.5v1.5h-1.5zM151.98 603.71h1.5v1.5h-1.5zM166.53 606.47h1.5v1.5h-1.5zM201.17 592.01h1.5v1.5h-1.5zM202.55 594.07h1.5v1.5h-1.5zM223.33 590.63h1.5v1.5h-1.5zM228.18 588.56h1.5v1.5h-1.5zM226.11 594.07h1.5v1.5h-1.5zM116.66 596.14h1.5v1.5h-1.5zM119.43 596.14h1.5v1.5h-1.5zM115.96 598.89h1.5v1.5h-1.5zM122.2 600.27h1.5v1.5h-1.5zM118.04 607.84h1.5v1.5h-1.5zM120.81 609.91h1.5v1.5h-1.5zM122.2 612.66h1.5v1.5h-1.5zM127.74 609.91h1.5v1.5h-1.5zM106.96 616.8h1.5v1.5h-1.5zM106.96 618.86h1.5v1.5h-1.5zM115.96 619.55h1.5v1.5h-1.5zM111.81 627.81h1.5v1.5h-1.5zM104.19 611.98h1.5v1.5h-1.5zM151.29 587.88h1.5v1.5h-1.5zM140.21 586.5h1.5v1.5h-1.5zM210.17 588.56h1.5v1.5h-1.5z" fill="#ba55d3"/>
<path d="M101.66 526.42h2.1v2.1h-2.1zM103.36 526.42h2.1v2.1h-2.1zM105.63 526.42h2.1v2.1h-2.1zM113.79 528.46h2.1v2.1h-2.1zM119.8 530.73h2.1v2.1h-2.1zM123.99 532.65h2.1v2.1h-2.1zM97.69 532.65h2.1v2.1h-2.1zM95.65 536.62h2.1v2.1h-2.1zM93.72 540.59h2.1v2.1h-2.1zM85.79 540.59h2.1v2.1h-2.1zM81.48 542.29h2.1v2.1h-2.1zM75.59 550.22h2.1v2.1h-2.1zM71.62 552.26h2.1v2.1h-2.1zM69.35 554.19h2.1v2.1h-2.1zM69.35 555.89h2.1v2.1h-2.1zM69.35 558.16h2.1v2.1h-2.1zM71.62 572.33h2.1v2.1h-2.1zM71.62 574.03h2.1v2.1h-2.1zM71.62 575.73h2.1v2.1h-2.1zM69.35 581.96h2.1v2.1h-2.1zM67.31 585.93h2.1v2.1h-2.1zM67.31 587.63h2.1v2.1h-2.1zM67.31 589.33h2.1v2.1h-2.1zM69.92 592.16h2.1v2.1h-2.1zM77.86 594.2h2.1v2.1h-2.1zM79.56 594.2h2.1v2.1h-2.1zM81.26 594.2h2.1v2.1h-2.1zM82.96 594.2h2.1v2.1h-2.1zM94.06 592.16h2.1v2.1h-2.1zM95.65 592.16h2.1v2.1h-2.1zM97.47 592.16h2.1v2.1h-2.1zM99.39 592.16h2.1v2.1h-2.1zM103.93 592.16h2.1v2.1h-2.1zM105.63 592.16h2.1v2.1h-2.1zM107.89 589.67h2.1v2.1h-2.1zM109.59 589.67h2.1v2.1h-2.1zM111.29 589.67h2.1v2.1h-2.1zM112.99 589.67h2.1v2.1h-2.1zM114.69 589.67h2.1v2.1h-2.1zM119.8 590.12h2.1v2.1h-2.1zM130 536.62h2.1v2.1h-2.1zM131.7 536.62h2.1v2.1h-2.1zM130 544.56h2.1v2.1h-2.1zM133.96 546.82h2.1v2.1h-2.1zM122.06 546.82h2.1v2.1h-2.1zM122.06 548.52h2.1v2.1h-2.1zM123.76 548.52h2.1v2.1h-2.1zM122.06 550.45h2.1v2.1h-2.1zM127.73 548.52h2.1v2.1h-2.1zM110.16 550.45h2.1v2.1h-2.1zM107.89 552.49h2.1v2.1h-2.1zM115.83 552.49h2.1v2.1h-2.1zM117.53 552.49h2.1v2.1h-2.1zM110.16 556.46h2.1v2.1h-2.1zM114.13 558.16h2.1v2.1h-2.1zM115.83 558.16h2.1v2.1h-2.1zM111.86 560.42h2.1v2.1h-2.1zM113.56 560.42h2.1v2.1h-2.1zM114.13 564.39h2.1v2.1h-2.1zM114.13 568.36h2.1v2.1h-2.1zM115.83 575.73h2.1v2.1h-2.1zM115.83 577.43h2.1v2.1h-2.1zM117.53 579.69h2.1v2.1h-2.1zM115.83 581.96h2.1v2.1h-2.1zM111.86 581.96h2.1v2.1h-2.1zM111.86 583.66h2.1v2.1h-2.1zM107.89 584.23h2.1v2.1h-2.1zM118.1 583.66h2.1v2.1h-2.1zM118.1 585.36h2.1v2.1h-2.1zM118.1 587.63h2.1v2.1h-2.1zM122.06 579.69h2.1v2.1h-2.1zM123.76 577.99h2.1v2.1h-2.1zM126.03 568.36h2.1v2.1h-2.1zM127.96 570.06h2.1v2.1h-2.1zM127.96 574.03h2.1v2.1h-2.1zM130 577.99h2.1v2.1h-2.1zM136.01 571.76h2.1v2.1h-2.1zM136.01 574.03h2.1v2.1h-2.1zM139.97 570.06h2.1v2.1h-2.1zM144.17 575.73h2.1v2.1h-2.1zM144.17 581.96h2.1v2.1h-2.1zM148.13 581.96h2.1v2.1h-2.1zM146.09 568.36h2.1v2.1h-2.1zM148.13 566.09h2.1v2.1h-2.1zM141.9 542.29h2.1v2.1h-2.1zM144.17 542.29h2.1v2.1h-2.1zM145.87 542.29h2.1v2.1h-2.1zM144.17 543.99h2.1v2.1h-2.1zM146.43 544.56h2.1v2.1h-2.1zM148.13 544.56h2.1v2.1h-2.1zM146.09 546.82h2.1v2.1h-2.1zM156.07 540.59h2.1v2.1h-2.1zM150.06 552.49h2.1v2.1h-2.1zM158 552.49h2.1v2.1h-2.1zM154.03 556.46h2.1v2.1h-2.1zM152.1 560.42h2.1v2.1h-2.1zM154.03 560.42h2.1v2.1h-2.1zM152.1 562.13h2.1v2.1h-2.1zM154.03 563.83h2.1v2.1h-2.1zM132.26 585.93h2.1v2.1h-2.1zM133.96 588.2h2.1v2.1h-2.1zM136.01 588.2h2.1v2.1h-2.1zM182.14 574.03h2.1v2.1h-2.1zM200.2 552.4h2.1v2.1h-2.1zM204.17 553.99h2.1v2.1h-2.1zM208.13 556.37h2.1v2.1h-2.1zM210.4 558.3h2.1v2.1h-2.1zM212.33 558.3h2.1v2.1h-2.1zM216.41 562.49h2.1v2.1h-2.1zM220.6 564.19h2.1v2.1h-2.1zM222.3 564.19h2.1v2.1h-2.1zM224.57 566.23h2.1v2.1h-2.1zM226.27 567.93h2.1v2.1h-2.1zM155.99 540.73h2.1v2.1h-2.1zM211.53 558.95h2.1v2.1h-2.1zM216.07 562.35h2.1v2.1h-2.1zM220.6 564.05h2.1v2.1h-2.1zM222.3 564.05h2.1v2.1h-2.1zM224.57 566.32h2.1v2.1h-2.1zM226.27 568.02h2.1v2.1h-2.1zM227.97 570.29h2.1v2.1h-2.1zM228.54 572.33h2.1v2.1h-2.1zM230.8 579.92h2.1v2.1h-2.1zM228.54 582.19h2.1v2.1h-2.1zM224.57 582.19h2.1v2.1h-2.1zM222.87 582.19h2.1v2.1h-2.1zM220.6 582.19h2.1v2.1h-2.1zM218.34 582.19h2.1v2.1h-2.1zM218.34 583.89h2.1v2.1h-2.1zM216.07 582.19h2.1v2.1h-2.1zM214.37 582.19h2.1v2.1h-2.1zM212.33 582.19h2.1v2.1h-2.1zM206.43 582.19h2.1v2.1h-2.1zM194.53 583.89h2.1v2.1h-2.1zM194.53 585.59h2.1v2.1h-2.1zM190.34 580.26h2.1v2.1h-2.1zM186.37 578.22h2.1v2.1h-2.1zM182.4 574.25h2.1v2.1h-2.1zM143.52 576.18h2.1v2.1h-2.1zM143.52 582.19h2.1v2.1h-2.1zM148.06 582.19h2.1v2.1h-2.1zM131.62 586.15h2.1v2.1h-2.1zM133.66 588.2h2.1v2.1h-2.1zM135.59 588.2h2.1v2.1h-2.1z" fill="#8a2be2"/>
</g>
<rect x="58.5" y="698.5" width="181.2" height="158.5" fill="url(#dotp)"/>
<rect x="58.5" y="698.5" width="181.2" height="158.5" fill="none" stroke="#000" stroke-width="1"/>
<path d="M98.5 857v2.5M149.1 857v2.5M199.1 857v2.5" stroke="#000" stroke-width="0.8"/>
<path d="M58.5 699.3h-2.5M58.5 738.9h-2.5M58.5 778.5h-2.5M58.5 817.5h-2.5M58.5 856.6h-2.5" stroke="#000" stroke-width="0.8"/>
<text x="98.5" y="867.6" font-size="12.8" text-anchor="middle">−25</text>
<text x="149.1" y="867.6" font-size="12.8" text-anchor="middle">0</text>
<text x="199.1" y="867.6" font-size="12.8" text-anchor="middle">25</text>
<text x="55" y="703.5" font-size="12.8" text-anchor="end">40</text>
<text x="55" y="743.1" font-size="12.8" text-anchor="end">20</text>
<text x="55" y="782.7" font-size="12.8" text-anchor="end">0</text>
<text x="55" y="821.7" font-size="12.8" text-anchor="end">−20</text>
<text x="55" y="860.8" font-size="12.8" text-anchor="end">−40</text>
<text x="149.2" y="881.6" font-size="12.8" text-anchor="middle" textLength="41" lengthAdjust="spacingAndGlyphs">X (mm)</text>
<text x="32.3" y="777.6" font-size="12.8" text-anchor="middle" transform="rotate(-90 32.3 777.6)" textLength="41" lengthAdjust="spacingAndGlyphs">Y (mm)</text>
<rect x="113.9" y="684.4" width="124.9" height="13.5" rx="1.2" fill="#fff" stroke="#d4d4d4" stroke-width="0.8"/>
<circle cx="118.7" cy="692.3" r="4.3" fill="#6e6e6e"/>
<text x="124.1" y="693.8" font-size="11.5" fill="#6e6e6e">1</text>
<circle cx="140.5" cy="692.3" r="4.3" fill="#deb887"/>
<text x="145.9" y="693.8" font-size="11.5" fill="#deb887">2</text>
<circle cx="161.1" cy="692.3" r="4.3" fill="#f4a460"/>
<text x="166.5" y="693.8" font-size="11.5" fill="#f4a460">3</text>
<circle cx="182.6" cy="692.3" r="4.3" fill="#87cefa"/>
<text x="188" y="693.8" font-size="11.5" fill="#87cefa">4</text>
<circle cx="204" cy="692.3" r="4.3" fill="#ba55d3"/>
<text x="209.4" y="693.8" font-size="11.5" fill="#ba55d3">5</text>
<circle cx="225.2" cy="692.3" r="4.3" fill="#8a2be2"/>
<text x="230.6" y="693.8" font-size="11.5" fill="#8a2be2">6</text>
<g transform="translate(284.6 480.2)"><g clip-path="url(#q2)"><g filter="url(#vir)">
<rect x="-20" y="-20" width="261" height="203.2" fill="url(#q1)"/>
<rect x="-20" y="-20" width="261" height="20" fill="#000"/>
<g filter="url(#b4)"><rect x="-20" y="99.19" width="261" height="21.26" fill="url(#q3)" opacity="1"/></g>
<g filter="url(#b3)"><rect x="-20" y="108.46" width="261" height="9.27" fill="url(#q4)" opacity="1"/></g>
<g filter="url(#b3)"><ellipse cx="145.5" cy="104.1" rx="36" ry="4" fill="#fff" opacity="0.5"/></g>
<path d="M0 68.67C6.67 68.13 26.67 65.4 40 65.4C53.33 65.4 68.33 67.04 80 68.67C91.67 70.31 105 74.12 110 75.21" fill="none" stroke="#fff" stroke-width="7" stroke-linecap="round" opacity="0.08" filter="url(#b3)"/>
<path d="M10 51.23C16.67 50.69 36.67 47.6 50 47.96C63.33 48.32 76.67 51.05 90 53.41C103.33 55.77 123.33 60.68 130 62.13" fill="none" stroke="#fff" stroke-width="8" stroke-linecap="round" opacity="0.07" filter="url(#b3)"/>
<g filter="url(#b2)"><rect x="215.5" y="122.08" width="12" height="60" fill="#000" opacity="0.45"/></g>
<g filter="url(#b6)"><ellipse cx="0" cy="171.2" rx="80" ry="36" fill="#000" opacity="0.33"/></g>
</g></g>
<rect x="0" y="0" width="221" height="163.2" fill="none" stroke="#000" stroke-width="1"/></g>
<g transform="translate(509.4 480.2)"><g clip-path="url(#q6)"><g filter="url(#vir)">
<rect x="-20" y="-20" width="261" height="203.2" fill="url(#q5)"/>
<rect x="-20" y="-20" width="261" height="20" fill="#000"/>
<path d="M10.77 62.14C14.88 61.43 27.59 58.81 35.44 57.87C43.29 56.94 50.4 56.27 57.87 56.53C65.35 56.79 72.83 58.1 80.31 59.44C87.78 60.79 94.51 63.14 102.74 64.6C110.96 66.06 125.17 67.59 129.65 68.19" fill="none" stroke="#fff" stroke-width="8" stroke-linecap="round" opacity="0.13" filter="url(#b3)"/>
<path d="M10.77 62.14C14.88 61.43 27.59 58.81 35.44 57.87C43.29 56.94 50.4 56.27 57.87 56.53C65.35 56.79 72.83 58.1 80.31 59.44C87.78 60.79 94.51 63.14 102.74 64.6C110.96 66.06 125.17 67.59 129.65 68.19" fill="none" stroke="url(#q7)" stroke-width="3" stroke-linecap="round" opacity="0.45" filter="url(#b2)"/>
<path d="M-13.91 69.54C-7.55 69.72 14.51 70.02 24.23 70.66C33.95 71.3 41.05 72.9 44.41 73.35" fill="none" stroke="#fff" stroke-width="7" stroke-linecap="round" opacity="0.14" filter="url(#b3)"/>
<path d="M-13.91 69.54C-7.55 69.72 14.51 70.02 24.23 70.66C33.95 71.3 41.05 72.9 44.41 73.35" fill="none" stroke="#fff" stroke-width="3.5" stroke-linecap="round" opacity="0.3" filter="url(#b2)"/>
<path d="M43.29 72.9C49.46 72.64 66.66 71.37 80.31 71.33C93.95 71.3 113.2 71.71 125.17 72.68C137.13 73.65 147.6 76.42 152.09 77.16" fill="none" stroke="#fff" stroke-width="7" stroke-linecap="round" opacity="0.1" filter="url(#b3)"/>
<path d="M28.71 92.42C30.96 91 37.69 85.84 42.17 83.89C46.66 81.95 51.14 80.83 55.63 80.75C60.12 80.68 63.11 81.43 69.09 83.45C75.07 85.46 84.42 90.25 91.52 92.87C98.62 95.48 108.34 98.1 111.71 99.15" fill="none" stroke="#fff" stroke-width="9" stroke-linecap="round" opacity="0.12" filter="url(#b3)"/>
<path d="M29.83 91.3C31.89 90.06 37.87 85.65 42.17 83.89C46.47 82.14 51.14 80.83 55.63 80.75C60.12 80.68 63.11 81.43 69.09 83.45C75.07 85.46 84.79 90.44 91.52 92.87C98.25 95.3 106.48 97.17 109.47 98.03" fill="none" stroke="#fff" stroke-width="4" stroke-linecap="round" opacity="0.2" filter="url(#b2)"/>
<path d="M157.69 83.89C161.62 83.67 173.58 83.37 181.25 82.55C188.91 81.73 195.08 79.86 203.68 78.96C212.28 78.06 227.98 77.46 232.84 77.16" fill="none" stroke="#fff" stroke-width="10" stroke-linecap="round" opacity="0.14" filter="url(#b3)"/>
<path d="M157.69 83.89C161.62 83.67 173.58 83.37 181.25 82.55C188.91 81.73 195.08 79.86 203.68 78.96C212.28 78.06 227.98 77.46 232.84 77.16" fill="none" stroke="#fff" stroke-width="5" stroke-linecap="round" opacity="0.25" filter="url(#b2)"/>
<path d="M187.98 63.26C190.97 62.88 198.44 61.2 205.92 61.01C213.4 60.83 228.35 61.95 232.84 62.14" fill="none" stroke="#fff" stroke-width="6" stroke-linecap="round" opacity="0.08" filter="url(#b3)"/>
<g filter="url(#b5)"><ellipse cx="118" cy="116" rx="62" ry="8" fill="#fff" opacity="0.42"/></g>
<g filter="url(#b5)"><ellipse cx="185" cy="114" rx="50" ry="8" fill="#fff" opacity="0.16"/></g>
<g filter="url(#b6)"><ellipse cx="0" cy="112" rx="60" ry="14" fill="#000" opacity="0.18"/></g>
<path d="M109.47 103.63C112.83 103.3 121.8 102.62 129.65 101.62C137.51 100.61 147.6 97.76 156.57 97.58C165.55 97.39 175.27 99.56 183.49 100.49C191.72 101.43 197.7 102.59 205.92 103.19C214.15 103.78 228.35 103.93 232.84 104.08" fill="none" stroke="#fff" stroke-width="9" stroke-linecap="round" opacity="0.2" filter="url(#b3)"/>
<path d="M111.71 103.19C114.7 102.89 122.18 102.33 129.65 101.39C137.13 100.46 147.6 97.73 156.57 97.58C165.55 97.43 175.27 99.56 183.49 100.49C191.72 101.43 197.7 102.59 205.92 103.19C214.15 103.78 228.35 103.93 232.84 104.08" fill="none" stroke="#fff" stroke-width="4.5" stroke-linecap="round" opacity="0.6" filter="url(#b2)"/>
<g filter="url(#b2)"><ellipse cx="143.5" cy="101" rx="17" ry="3" fill="#fff" opacity="0.9"/></g>
<g filter="url(#b1)"><ellipse cx="143.5" cy="101" rx="8" ry="2" fill="#fff" opacity="0.6"/></g>
<g filter="url(#b2)"><rect x="215.5" y="123.17" width="12" height="60" fill="#000" opacity="0.35"/></g>
<g filter="url(#b6)"><ellipse cx="10" cy="171.2" rx="80" ry="36" fill="#000" opacity="0.38"/></g>
</g></g>
<rect x="0" y="0" width="221" height="163.2" fill="none" stroke="#000" stroke-width="1"/></g>
<g transform="translate(735.6 480.2)"><g clip-path="url(#q9)"><g filter="url(#vir)">
<rect x="-20" y="-20" width="261" height="203.2" fill="url(#q8)"/>
<rect x="-20" y="-20" width="261" height="20" fill="#000"/>
<path d="M34.32 59.89C38.06 59.63 49.27 58.21 56.75 58.32C64.23 58.43 72.45 59.56 79.18 60.57C85.91 61.57 94.14 63.74 97.13 64.38" fill="none" stroke="#fff" stroke-width="5" stroke-linecap="round" opacity="0.09" filter="url(#b3)"/>
<path d="M-15.03 71.11C-6.8 70.92 18.62 69.8 34.32 69.99C50.02 70.17 64.23 71.48 79.18 72.23C94.14 72.98 116.57 74.1 124.05 74.47" fill="none" stroke="#fff" stroke-width="7" stroke-linecap="round" opacity="0.09" filter="url(#b3)"/>
<g filter="url(#b6)"><ellipse cx="30" cy="116" rx="55" ry="14" fill="#fff" opacity="0.14"/></g>
<g filter="url(#b5)"><ellipse cx="195" cy="120" rx="45" ry="14" fill="#fff" opacity="0.12"/></g>
<g filter="url(#b6)"><ellipse cx="150" cy="112" rx="80" ry="24" fill="#fff" opacity="0.14"/></g>
<path d="M34.32 142.89C38.06 142.33 49.27 141.02 56.75 139.52C64.23 138.03 71.71 136.35 79.18 133.92C86.66 131.49 94.14 128.12 101.62 124.94C109.09 121.77 118.44 117.35 124.05 114.85C129.65 112.34 131.52 111.78 135.26 109.91C139 108.05 142.74 105.99 146.48 103.63C150.22 101.28 153.96 98.77 157.69 95.78C161.43 92.79 165.17 88.49 168.91 85.69C172.65 82.88 176.39 80.75 180.13 78.96C183.86 77.16 187.23 76.04 191.34 74.92C195.45 73.8 198.07 72.94 204.8 72.23C211.53 71.52 227.23 70.92 231.72 70.66" fill="none" stroke="url(#q10)" stroke-width="17" stroke-linecap="round" opacity="1" filter="url(#b5)"/>
<path d="M34.32 142.89C38.06 142.33 49.27 141.02 56.75 139.52C64.23 138.03 71.71 136.35 79.18 133.92C86.66 131.49 94.14 128.12 101.62 124.94C109.09 121.77 118.44 117.35 124.05 114.85C129.65 112.34 131.52 111.78 135.26 109.91C139 108.05 142.74 105.99 146.48 103.63C150.22 101.28 153.96 98.77 157.69 95.78C161.43 92.79 165.17 88.49 168.91 85.69C172.65 82.88 176.39 80.75 180.13 78.96C183.86 77.16 187.23 76.04 191.34 74.92C195.45 73.8 198.07 72.94 204.8 72.23C211.53 71.52 227.23 70.92 231.72 70.66" fill="none" stroke="url(#q11)" stroke-width="8" stroke-linecap="round" opacity="1" filter="url(#b3)"/>
<g filter="url(#b2)"><rect x="215" y="123.17" width="12" height="60" fill="#000" opacity="0.3"/></g>
</g></g>
<rect x="0" y="0" width="221" height="163.2" fill="none" stroke="#000" stroke-width="1"/></g>
<path d="M289 643.4v2.5M338.8 643.4v2.5M388.6 643.4v2.5M438.4 643.4v2.5M488.2 643.4v2.5" stroke="#000" stroke-width="0.8"/>
<text x="289" y="654.8" font-size="12.4" text-anchor="middle">6</text>
<text x="338.8" y="654.8" font-size="12.4" text-anchor="middle">0</text>
<text x="388.6" y="654.8" font-size="12.4" text-anchor="middle">−6</text>
<text x="438.4" y="654.8" font-size="12.4" text-anchor="middle">−12</text>
<text x="488.2" y="654.8" font-size="12.4" text-anchor="middle">−18</text>
<text x="395.1" y="667.2" font-size="12.8" text-anchor="middle" textLength="109.8" lengthAdjust="spacingAndGlyphs">Detector Angle (deg)</text>
<text x="395.1" y="476.2" font-size="11.5" text-anchor="middle" textLength="44" lengthAdjust="spacingAndGlyphs">Cluster3</text>
<text x="297.6" y="505.7" font-size="20" fill="#fff">(1)</text>
<path d="M513.8 643.4v2.5M563.6 643.4v2.5M613.4 643.4v2.5M663.2 643.4v2.5M713 643.4v2.5" stroke="#000" stroke-width="0.8"/>
<text x="513.8" y="654.8" font-size="12.4" text-anchor="middle">6</text>
<text x="563.6" y="654.8" font-size="12.4" text-anchor="middle">0</text>
<text x="613.4" y="654.8" font-size="12.4" text-anchor="middle">−6</text>
<text x="663.2" y="654.8" font-size="12.4" text-anchor="middle">−12</text>
<text x="713" y="654.8" font-size="12.4" text-anchor="middle">−18</text>
<text x="619.9" y="667.2" font-size="12.8" text-anchor="middle" textLength="109.8" lengthAdjust="spacingAndGlyphs">Detector Angle (deg)</text>
<text x="619.9" y="476.2" font-size="11.5" text-anchor="middle" textLength="44" lengthAdjust="spacingAndGlyphs">Cluster4</text>
<text x="522.4" y="505.7" font-size="20" fill="#fff">(2)</text>
<path d="M740 643.4v2.5M789.8 643.4v2.5M839.6 643.4v2.5M889.4 643.4v2.5M939.2 643.4v2.5" stroke="#000" stroke-width="0.8"/>
<text x="740" y="654.8" font-size="12.4" text-anchor="middle">6</text>
<text x="789.8" y="654.8" font-size="12.4" text-anchor="middle">0</text>
<text x="839.6" y="654.8" font-size="12.4" text-anchor="middle">−6</text>
<text x="889.4" y="654.8" font-size="12.4" text-anchor="middle">−12</text>
<text x="939.2" y="654.8" font-size="12.4" text-anchor="middle">−18</text>
<text x="846.1" y="667.2" font-size="12.8" text-anchor="middle" textLength="109.8" lengthAdjust="spacingAndGlyphs">Detector Angle (deg)</text>
<text x="846.1" y="476.2" font-size="11.5" text-anchor="middle" textLength="44" lengthAdjust="spacingAndGlyphs">Cluster5</text>
<text x="748.6" y="505.7" font-size="20" fill="#fff">(3)</text>
<path d="M284.6 500.91h-2.5M284.6 522.71h-2.5M284.6 544.51h-2.5M284.6 566.31h-2.5M284.6 588.11h-2.5M284.6 609.91h-2.5M284.6 631.71h-2.5" stroke="#000" stroke-width="0.8"/>
<text x="281.3" y="505.11" font-size="12.4" text-anchor="end">98</text>
<text x="281.3" y="526.91" font-size="12.4" text-anchor="end">96</text>
<text x="281.3" y="548.71" font-size="12.4" text-anchor="end">94</text>
<text x="281.3" y="570.51" font-size="12.4" text-anchor="end">92</text>
<text x="281.3" y="592.31" font-size="12.4" text-anchor="end">90</text>
<text x="281.3" y="614.11" font-size="12.4" text-anchor="end">88</text>
<text x="281.3" y="635.91" font-size="12.4" text-anchor="end">86</text>
<text x="265.1" y="561.8" font-size="12.6" text-anchor="middle" transform="rotate(-90 265.1 561.8)" textLength="102.8" lengthAdjust="spacingAndGlyphs">Kinetic Energy (eV)</text>
<g transform="translate(284.6 695)"><g clip-path="url(#q13)"><g filter="url(#vir)">
<rect x="-20" y="-20" width="261" height="203.2" fill="url(#q12)"/>
<rect x="-20" y="-20" width="261" height="20" fill="#000"/>
<g filter="url(#b4)"><rect x="-20" y="99.19" width="261" height="21.26" fill="url(#q14)" opacity="1"/></g>
<g filter="url(#b3)"><rect x="-20" y="108.46" width="261" height="9.27" fill="url(#q15)" opacity="1"/></g>
<g filter="url(#b3)"><ellipse cx="145.5" cy="104.1" rx="36" ry="4" fill="#fff" opacity="0.5"/></g>
<path d="M0 68.67C6.67 68.13 26.67 65.4 40 65.4C53.33 65.4 68.33 67.04 80 68.67C91.67 70.31 105 74.12 110 75.21" fill="none" stroke="#fff" stroke-width="7" stroke-linecap="round" opacity="0.08" filter="url(#b3)"/>
<path d="M10 51.23C16.67 50.69 36.67 47.6 50 47.96C63.33 48.32 76.67 51.05 90 53.41C103.33 55.77 123.33 60.68 130 62.13" fill="none" stroke="#fff" stroke-width="8" stroke-linecap="round" opacity="0.07" filter="url(#b3)"/>
<g filter="url(#b2)"><rect x="215.5" y="122.08" width="12" height="60" fill="#000" opacity="0.45"/></g>
<g filter="url(#b6)"><ellipse cx="0" cy="171.2" rx="80" ry="36" fill="#000" opacity="0.33"/></g>
</g></g>
<rect x="0" y="0" width="221" height="163.2" fill="none" stroke="#000" stroke-width="1"/></g>
<g transform="translate(509.4 695)"><g clip-path="url(#q17)"><g filter="url(#vir)">
<rect x="-20" y="-20" width="261" height="203.2" fill="url(#q16)"/>
<rect x="-20" y="-20" width="261" height="20" fill="#000"/>
<path d="M10.77 62.14C14.88 61.43 27.59 58.81 35.44 57.87C43.29 56.94 50.4 56.27 57.87 56.53C65.35 56.79 72.83 58.1 80.31 59.44C87.78 60.79 94.51 63.14 102.74 64.6C110.96 66.06 125.17 67.59 129.65 68.19" fill="none" stroke="#fff" stroke-width="8" stroke-linecap="round" opacity="0.13" filter="url(#b3)"/>
<path d="M10.77 62.14C14.88 61.43 27.59 58.81 35.44 57.87C43.29 56.94 50.4 56.27 57.87 56.53C65.35 56.79 72.83 58.1 80.31 59.44C87.78 60.79 94.51 63.14 102.74 64.6C110.96 66.06 125.17 67.59 129.65 68.19" fill="none" stroke="url(#q18)" stroke-width="3" stroke-linecap="round" opacity="0.45" filter="url(#b2)"/>
<path d="M-13.91 69.54C-7.55 69.72 14.51 70.02 24.23 70.66C33.95 71.3 41.05 72.9 44.41 73.35" fill="none" stroke="#fff" stroke-width="7" stroke-linecap="round" opacity="0.14" filter="url(#b3)"/>
<path d="M-13.91 69.54C-7.55 69.72 14.51 70.02 24.23 70.66C33.95 71.3 41.05 72.9 44.41 73.35" fill="none" stroke="#fff" stroke-width="3.5" stroke-linecap="round" opacity="0.3" filter="url(#b2)"/>
<path d="M43.29 72.9C49.46 72.64 66.66 71.37 80.31 71.33C93.95 71.3 113.2 71.71 125.17 72.68C137.13 73.65 147.6 76.42 152.09 77.16" fill="none" stroke="#fff" stroke-width="7" stroke-linecap="round" opacity="0.1" filter="url(#b3)"/>
<path d="M28.71 92.42C30.96 91 37.69 85.84 42.17 83.89C46.66 81.95 51.14 80.83 55.63 80.75C60.12 80.68 63.11 81.43 69.09 83.45C75.07 85.46 84.42 90.25 91.52 92.87C98.62 95.48 108.34 98.1 111.71 99.15" fill="none" stroke="#fff" stroke-width="9" stroke-linecap="round" opacity="0.12" filter="url(#b3)"/>
<path d="M29.83 91.3C31.89 90.06 37.87 85.65 42.17 83.89C46.47 82.14 51.14 80.83 55.63 80.75C60.12 80.68 63.11 81.43 69.09 83.45C75.07 85.46 84.79 90.44 91.52 92.87C98.25 95.3 106.48 97.17 109.47 98.03" fill="none" stroke="#fff" stroke-width="4" stroke-linecap="round" opacity="0.2" filter="url(#b2)"/>
<path d="M157.69 83.89C161.62 83.67 173.58 83.37 181.25 82.55C188.91 81.73 195.08 79.86 203.68 78.96C212.28 78.06 227.98 77.46 232.84 77.16" fill="none" stroke="#fff" stroke-width="10" stroke-linecap="round" opacity="0.14" filter="url(#b3)"/>
<path d="M157.69 83.89C161.62 83.67 173.58 83.37 181.25 82.55C188.91 81.73 195.08 79.86 203.68 78.96C212.28 78.06 227.98 77.46 232.84 77.16" fill="none" stroke="#fff" stroke-width="5" stroke-linecap="round" opacity="0.25" filter="url(#b2)"/>
<path d="M187.98 63.26C190.97 62.88 198.44 61.2 205.92 61.01C213.4 60.83 228.35 61.95 232.84 62.14" fill="none" stroke="#fff" stroke-width="6" stroke-linecap="round" opacity="0.08" filter="url(#b3)"/>
<g filter="url(#b5)"><ellipse cx="118" cy="116" rx="62" ry="8" fill="#fff" opacity="0.42"/></g>
<g filter="url(#b5)"><ellipse cx="185" cy="114" rx="50" ry="8" fill="#fff" opacity="0.16"/></g>
<g filter="url(#b6)"><ellipse cx="0" cy="112" rx="60" ry="14" fill="#000" opacity="0.18"/></g>
<path d="M109.47 103.63C112.83 103.3 121.8 102.62 129.65 101.62C137.51 100.61 147.6 97.76 156.57 97.58C165.55 97.39 175.27 99.56 183.49 100.49C191.72 101.43 197.7 102.59 205.92 103.19C214.15 103.78 228.35 103.93 232.84 104.08" fill="none" stroke="#fff" stroke-width="9" stroke-linecap="round" opacity="0.2" filter="url(#b3)"/>
<path d="M111.71 103.19C114.7 102.89 122.18 102.33 129.65 101.39C137.13 100.46 147.6 97.73 156.57 97.58C165.55 97.43 175.27 99.56 183.49 100.49C191.72 101.43 197.7 102.59 205.92 103.19C214.15 103.78 228.35 103.93 232.84 104.08" fill="none" stroke="#fff" stroke-width="4.5" stroke-linecap="round" opacity="0.6" filter="url(#b2)"/>
<g filter="url(#b2)"><ellipse cx="143.5" cy="101" rx="17" ry="3" fill="#fff" opacity="0.9"/></g>
<g filter="url(#b1)"><ellipse cx="143.5" cy="101" rx="8" ry="2" fill="#fff" opacity="0.6"/></g>
<g filter="url(#b2)"><rect x="215.5" y="123.17" width="12" height="60" fill="#000" opacity="0.35"/></g>
<g filter="url(#b6)"><ellipse cx="10" cy="171.2" rx="80" ry="36" fill="#000" opacity="0.38"/></g>
</g></g>
<rect x="0" y="0" width="221" height="163.2" fill="none" stroke="#000" stroke-width="1"/></g>
<g transform="translate(735.6 695)"><g clip-path="url(#q20)"><g filter="url(#vir)">
<rect x="-20" y="-20" width="261" height="203.2" fill="url(#q19)"/>
<rect x="-20" y="-20" width="261" height="20" fill="#000"/>
<path d="M18.62 58.77C23.1 57.84 37.31 53.72 45.54 53.16C53.76 52.6 60.49 53.91 67.97 55.41C75.44 56.9 82.55 60.15 90.4 62.14C98.25 64.12 110.96 66.43 115.07 67.29" fill="none" stroke="#fff" stroke-width="7" stroke-linecap="round" opacity="0.16" filter="url(#b3)"/>
<path d="M-15.03 71.11C-8.67 71.03 13.01 70.1 23.1 70.66C33.2 71.22 38.06 72.72 45.54 74.47C53.01 76.23 64.23 80.08 67.97 81.2" fill="none" stroke="#fff" stroke-width="7" stroke-linecap="round" opacity="0.24" filter="url(#b3)"/>
<path d="M124.05 69.99C131.52 71.86 157.69 78.96 168.91 81.2C180.13 83.45 180.87 83.82 191.34 83.45C201.81 83.07 224.99 79.71 231.72 78.96" fill="none" stroke="#fff" stroke-width="9" stroke-linecap="round" opacity="0.12" filter="url(#b3)"/>
<path d="M23.1 92.42C26.84 91.11 38.81 86.06 45.54 84.57C52.27 83.07 56 82.14 63.48 83.45C70.96 84.75 85.91 90.92 90.4 92.42" fill="none" stroke="#fff" stroke-width="8" stroke-linecap="round" opacity="0.1" filter="url(#b3)"/>
<g filter="url(#b5)"><ellipse cx="20" cy="112" rx="50" ry="10" fill="#000" opacity="0.12"/></g>
<g filter="url(#b5)"><ellipse cx="135" cy="117" rx="80" ry="8" fill="#fff" opacity="0.36"/></g>
<g filter="url(#b5)"><ellipse cx="190" cy="112" rx="40" ry="8" fill="#fff" opacity="0.15"/></g>
<path d="M106.1 104.76C109.84 104.49 119.56 103.75 128.53 103.19C137.51 102.62 149.47 101.32 159.94 101.39C170.41 101.47 179.38 103.07 191.34 103.63C203.3 104.19 224.99 104.57 231.72 104.76" fill="none" stroke="#fff" stroke-width="8" stroke-linecap="round" opacity="0.4" filter="url(#b3)"/>
<g filter="url(#b3)"><ellipse cx="144" cy="102.5" rx="24" ry="3.6" fill="#fff" opacity="0.7"/></g>
<g filter="url(#b2)"><rect x="215" y="123.17" width="12" height="60" fill="#000" opacity="0.35"/></g>
<g filter="url(#b6)"><ellipse cx="0" cy="163.2" rx="30" ry="30" fill="#000" opacity="0.3"/></g>
</g></g>
<rect x="0" y="0" width="221" height="163.2" fill="none" stroke="#000" stroke-width="1"/></g>
<g transform="translate(961.5 695)"><g clip-path="url(#q22)"><g filter="url(#vir)">
<rect x="-20" y="-20" width="261" height="203.2" fill="url(#q21)"/>
<rect x="-20" y="-20" width="261" height="20" fill="#000"/>
<path d="M34.32 59.89C38.06 59.63 49.27 58.21 56.75 58.32C64.23 58.43 72.45 59.56 79.18 60.57C85.91 61.57 94.14 63.74 97.13 64.38" fill="none" stroke="#fff" stroke-width="5" stroke-linecap="round" opacity="0.09" filter="url(#b3)"/>
<path d="M-15.03 71.11C-6.8 70.92 18.62 69.8 34.32 69.99C50.02 70.17 64.23 71.48 79.18 72.23C94.14 72.98 116.57 74.1 124.05 74.47" fill="none" stroke="#fff" stroke-width="7" stroke-linecap="round" opacity="0.09" filter="url(#b3)"/>
<g filter="url(#b6)"><ellipse cx="30" cy="116" rx="55" ry="14" fill="#fff" opacity="0.14"/></g>
<g filter="url(#b5)"><ellipse cx="195" cy="120" rx="45" ry="14" fill="#fff" opacity="0.12"/></g>
<g filter="url(#b6)"><ellipse cx="150" cy="112" rx="80" ry="24" fill="#fff" opacity="0.14"/></g>
<path d="M34.32 142.89C38.06 142.33 49.27 141.02 56.75 139.52C64.23 138.03 71.71 136.35 79.18 133.92C86.66 131.49 94.14 128.12 101.62 124.94C109.09 121.77 118.44 117.35 124.05 114.85C129.65 112.34 131.52 111.78 135.26 109.91C139 108.05 142.74 105.99 146.48 103.63C150.22 101.28 153.96 98.77 157.69 95.78C161.43 92.79 165.17 88.49 168.91 85.69C172.65 82.88 176.39 80.75 180.13 78.96C183.86 77.16 187.23 76.04 191.34 74.92C195.45 73.8 198.07 72.94 204.8 72.23C211.53 71.52 227.23 70.92 231.72 70.66" fill="none" stroke="url(#q23)" stroke-width="17" stroke-linecap="round" opacity="1" filter="url(#b5)"/>
<path d="M34.32 142.89C38.06 142.33 49.27 141.02 56.75 139.52C64.23 138.03 71.71 136.35 79.18 133.92C86.66 131.49 94.14 128.12 101.62 124.94C109.09 121.77 118.44 117.35 124.05 114.85C129.65 112.34 131.52 111.78 135.26 109.91C139 108.05 142.74 105.99 146.48 103.63C150.22 101.28 153.96 98.77 157.69 95.78C161.43 92.79 165.17 88.49 168.91 85.69C172.65 82.88 176.39 80.75 180.13 78.96C183.86 77.16 187.23 76.04 191.34 74.92C195.45 73.8 198.07 72.94 204.8 72.23C211.53 71.52 227.23 70.92 231.72 70.66" fill="none" stroke="url(#q24)" stroke-width="8" stroke-linecap="round" opacity="1" filter="url(#b3)"/>
<g filter="url(#b2)"><rect x="215" y="123.17" width="12" height="60" fill="#000" opacity="0.3"/></g>
</g></g>
<rect x="0" y="0" width="221" height="163.2" fill="none" stroke="#000" stroke-width="1"/></g>
<path d="M289 858.2v2.5M338.8 858.2v2.5M388.6 858.2v2.5M438.4 858.2v2.5M488.2 858.2v2.5" stroke="#000" stroke-width="0.8"/>
<text x="289" y="869.6" font-size="12.4" text-anchor="middle">6</text>
<text x="338.8" y="869.6" font-size="12.4" text-anchor="middle">0</text>
<text x="388.6" y="869.6" font-size="12.4" text-anchor="middle">−6</text>
<text x="438.4" y="869.6" font-size="12.4" text-anchor="middle">−12</text>
<text x="488.2" y="869.6" font-size="12.4" text-anchor="middle">−18</text>
<text x="395.1" y="882" font-size="12.8" text-anchor="middle" textLength="109.8" lengthAdjust="spacingAndGlyphs">Detector Angle (deg)</text>
<text x="395.1" y="691" font-size="11.5" text-anchor="middle" textLength="44" lengthAdjust="spacingAndGlyphs">Cluster3</text>
<text x="297.6" y="720.5" font-size="20" fill="#fff">(1)</text>
<path d="M513.8 858.2v2.5M563.6 858.2v2.5M613.4 858.2v2.5M663.2 858.2v2.5M713 858.2v2.5" stroke="#000" stroke-width="0.8"/>
<text x="513.8" y="869.6" font-size="12.4" text-anchor="middle">6</text>
<text x="563.6" y="869.6" font-size="12.4" text-anchor="middle">0</text>
<text x="613.4" y="869.6" font-size="12.4" text-anchor="middle">−6</text>
<text x="663.2" y="869.6" font-size="12.4" text-anchor="middle">−12</text>
<text x="713" y="869.6" font-size="12.4" text-anchor="middle">−18</text>
<text x="619.9" y="882" font-size="12.8" text-anchor="middle" textLength="109.8" lengthAdjust="spacingAndGlyphs">Detector Angle (deg)</text>
<text x="619.9" y="691" font-size="11.5" text-anchor="middle" textLength="44" lengthAdjust="spacingAndGlyphs">Cluster4</text>
<text x="522.4" y="720.5" font-size="20" fill="#fff">(2)</text>
<path d="M740 858.2v2.5M789.8 858.2v2.5M839.6 858.2v2.5M889.4 858.2v2.5M939.2 858.2v2.5" stroke="#000" stroke-width="0.8"/>
<text x="740" y="869.6" font-size="12.4" text-anchor="middle">6</text>
<text x="789.8" y="869.6" font-size="12.4" text-anchor="middle">0</text>
<text x="839.6" y="869.6" font-size="12.4" text-anchor="middle">−6</text>
<text x="889.4" y="869.6" font-size="12.4" text-anchor="middle">−12</text>
<text x="939.2" y="869.6" font-size="12.4" text-anchor="middle">−18</text>
<text x="846.1" y="882" font-size="12.8" text-anchor="middle" textLength="109.8" lengthAdjust="spacingAndGlyphs">Detector Angle (deg)</text>
<text x="846.1" y="691" font-size="11.5" text-anchor="middle" textLength="44" lengthAdjust="spacingAndGlyphs">Cluster5</text>
<text x="748.6" y="720.5" font-size="20" fill="#fff">(3)</text>
<path d="M965.9 858.2v2.5M1015.7 858.2v2.5M1065.5 858.2v2.5M1115.3 858.2v2.5M1165.1 858.2v2.5" stroke="#000" stroke-width="0.8"/>
<text x="965.9" y="869.6" font-size="12.4" text-anchor="middle">6</text>
<text x="1015.7" y="869.6" font-size="12.4" text-anchor="middle">0</text>
<text x="1065.5" y="869.6" font-size="12.4" text-anchor="middle">−6</text>
<text x="1115.3" y="869.6" font-size="12.4" text-anchor="middle">−12</text>
<text x="1165.1" y="869.6" font-size="12.4" text-anchor="middle">−18</text>
<text x="1072" y="882" font-size="12.8" text-anchor="middle" textLength="109.8" lengthAdjust="spacingAndGlyphs">Detector Angle (deg)</text>
<text x="1072" y="691" font-size="11.5" text-anchor="middle" textLength="44" lengthAdjust="spacingAndGlyphs">Cluster6</text>
<text x="974.5" y="720.5" font-size="20" fill="#fff">(4)</text>
<path d="M284.6 715.71h-2.5M284.6 737.51h-2.5M284.6 759.31h-2.5M284.6 781.11h-2.5M284.6 802.91h-2.5M284.6 824.71h-2.5M284.6 846.51h-2.5" stroke="#000" stroke-width="0.8"/>
<text x="281.3" y="719.91" font-size="12.4" text-anchor="end">98</text>
<text x="281.3" y="741.71" font-size="12.4" text-anchor="end">96</text>
<text x="281.3" y="763.51" font-size="12.4" text-anchor="end">94</text>
<text x="281.3" y="785.31" font-size="12.4" text-anchor="end">92</text>
<text x="281.3" y="807.11" font-size="12.4" text-anchor="end">90</text>
<text x="281.3" y="828.91" font-size="12.4" text-anchor="end">88</text>
<text x="281.3" y="850.71" font-size="12.4" text-anchor="end">86</text>
<text x="265.1" y="776.6" font-size="12.6" text-anchor="middle" transform="rotate(-90 265.1 776.6)" textLength="102.8" lengthAdjust="spacingAndGlyphs">Kinetic Energy (eV)</text>
<line x1="5" y1="441.9" x2="1190" y2="441.9" stroke="#000" stroke-width="1.8"/>
<text x="7.5" y="14.6" font-size="20" stroke="#fff" stroke-width="0.35">(a)</text>
<text x="238.5" y="14.6" font-size="20" stroke="#fff" stroke-width="0.35">(b)</text>
<text x="463.7" y="14.8" font-size="20" stroke="#fff" stroke-width="0.35">(c)</text>
<text x="712.3" y="14.8" font-size="20" stroke="#fff" stroke-width="0.35">(d)</text>
<text x="947.3" y="14.8" font-size="20" stroke="#fff" stroke-width="0.35">(e)</text>
<text x="8.6" y="231" font-size="20" stroke="#fff" stroke-width="0.35">(f)</text>
<text x="234.9" y="229.8" font-size="20" stroke="#fff" stroke-width="0.35">(g)</text>
<text x="468.6" y="231" font-size="20" stroke="#fff" stroke-width="0.35">(h)</text>
<text x="712.3" y="231" font-size="20" stroke="#fff" stroke-width="0.35">(i)</text>
<text x="947.3" y="231" font-size="20" stroke="#fff" stroke-width="0.35">(j)</text>
<text x="17.5" y="464.8" font-size="20" stroke="#fff" stroke-width="0.35">(k)</text>
<text x="253.3" y="463.9" font-size="20" stroke="#fff" stroke-width="0.35">(l)</text>
<text x="960.4" y="464.2" font-size="20" stroke="#fff" stroke-width="0.35">(m)</text>
<text x="17.5" y="679.6" font-size="20" stroke="#fff" stroke-width="0.35">(n)</text>
<text x="253.3" y="678.5" font-size="20" stroke="#fff" stroke-width="0.35">(o)</text></svg></body></html>
